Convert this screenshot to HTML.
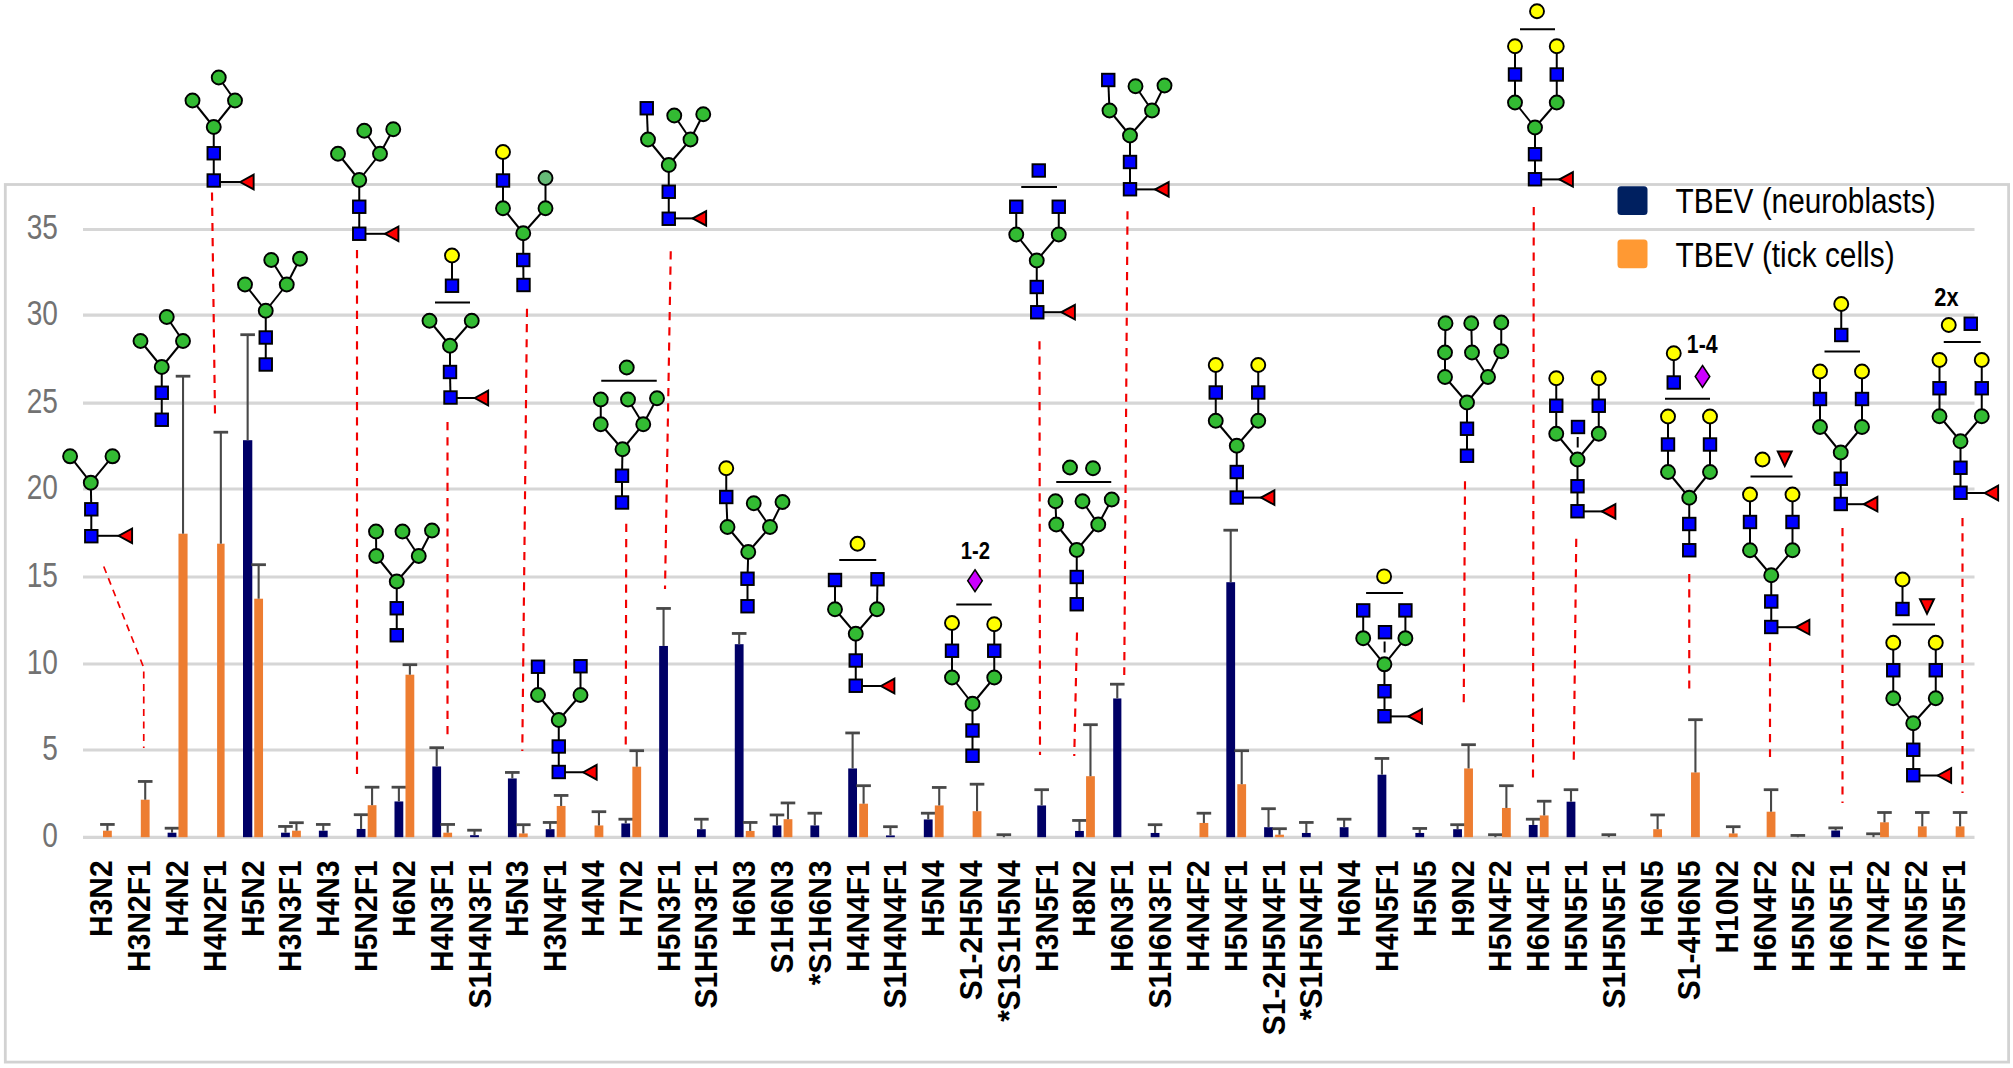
<!DOCTYPE html>
<html><head><meta charset="utf-8"><title>N-glycan profile TBEV</title>
<style>html,body{margin:0;padding:0;background:#fff}svg{display:block}</style>
</head><body>
<svg width="2013" height="1068" viewBox="0 0 2013 1068">
<rect x="0" y="0" width="2013" height="1068" fill="#fff"/>
<rect x="5.3" y="184.5" width="2003.3" height="877.6" fill="none" stroke="#d2d2d2" stroke-width="2.8"/>
<line x1="83.0" y1="229.5" x2="1974.5" y2="229.5" stroke="#d6d6d6" stroke-width="3.2"/>
<line x1="83.0" y1="315.2" x2="1974.5" y2="315.2" stroke="#d6d6d6" stroke-width="3.2"/>
<line x1="83.0" y1="403.1" x2="1974.5" y2="403.1" stroke="#d6d6d6" stroke-width="3.2"/>
<line x1="83.0" y1="489.0" x2="1974.5" y2="489.0" stroke="#d6d6d6" stroke-width="3.2"/>
<line x1="83.0" y1="577.0" x2="1974.5" y2="577.0" stroke="#d6d6d6" stroke-width="3.2"/>
<line x1="83.0" y1="664.0" x2="1974.5" y2="664.0" stroke="#d6d6d6" stroke-width="3.2"/>
<line x1="83.0" y1="750.0" x2="1974.5" y2="750.0" stroke="#d6d6d6" stroke-width="3.2"/>
<line x1="83.0" y1="837.3" x2="1974.5" y2="837.3" stroke="#d6d6d6" stroke-width="3.2"/>
<text x="57.9" y="239.5" text-anchor="end" font-family="Liberation Sans, sans-serif" font-size="36" fill="#727272" transform="translate(57.9 0) scale(0.78 1) translate(-57.9 0)">35</text>
<text x="57.9" y="325.2" text-anchor="end" font-family="Liberation Sans, sans-serif" font-size="36" fill="#727272" transform="translate(57.9 0) scale(0.78 1) translate(-57.9 0)">30</text>
<text x="57.9" y="413.1" text-anchor="end" font-family="Liberation Sans, sans-serif" font-size="36" fill="#727272" transform="translate(57.9 0) scale(0.78 1) translate(-57.9 0)">25</text>
<text x="57.9" y="499.0" text-anchor="end" font-family="Liberation Sans, sans-serif" font-size="36" fill="#727272" transform="translate(57.9 0) scale(0.78 1) translate(-57.9 0)">20</text>
<text x="57.9" y="587.0" text-anchor="end" font-family="Liberation Sans, sans-serif" font-size="36" fill="#727272" transform="translate(57.9 0) scale(0.78 1) translate(-57.9 0)">15</text>
<text x="57.9" y="674.0" text-anchor="end" font-family="Liberation Sans, sans-serif" font-size="36" fill="#727272" transform="translate(57.9 0) scale(0.78 1) translate(-57.9 0)">10</text>
<text x="57.9" y="760.0" text-anchor="end" font-family="Liberation Sans, sans-serif" font-size="36" fill="#727272" transform="translate(57.9 0) scale(0.78 1) translate(-57.9 0)">5</text>
<text x="57.9" y="847.3" text-anchor="end" font-family="Liberation Sans, sans-serif" font-size="36" fill="#727272" transform="translate(57.9 0) scale(0.78 1) translate(-57.9 0)">0</text>
<rect x="103.00" y="830.70" width="8.8" height="6.50" fill="#ED7D31"/>
<line x1="107.41" y1="830.70" x2="107.41" y2="824.45" stroke="#484848" stroke-width="2.1"/>
<line x1="100.11" y1="824.45" x2="114.70" y2="824.45" stroke="#484848" stroke-width="2.8"/>
<rect x="140.81" y="799.70" width="8.8" height="37.50" fill="#ED7D31"/>
<line x1="145.22" y1="799.70" x2="145.22" y2="781.45" stroke="#484848" stroke-width="2.1"/>
<line x1="137.91" y1="781.45" x2="152.52" y2="781.45" stroke="#484848" stroke-width="2.8"/>
<rect x="167.62" y="832.70" width="8.8" height="4.50" fill="#000066"/>
<line x1="172.03" y1="832.70" x2="172.03" y2="828.20" stroke="#484848" stroke-width="2.1"/>
<line x1="164.72" y1="828.20" x2="179.33" y2="828.20" stroke="#484848" stroke-width="2.8"/>
<rect x="178.47" y="533.70" width="9.1" height="303.50" fill="#ED7D31"/>
<line x1="183.03" y1="533.70" x2="183.03" y2="376.20" stroke="#484848" stroke-width="2.1"/>
<line x1="175.72" y1="376.20" x2="190.33" y2="376.20" stroke="#484848" stroke-width="2.8"/>
<rect x="217.09" y="543.70" width="7.5" height="293.50" fill="#ED7D31"/>
<line x1="220.84" y1="543.70" x2="220.84" y2="432.20" stroke="#484848" stroke-width="2.1"/>
<line x1="213.53" y1="432.20" x2="228.14" y2="432.20" stroke="#484848" stroke-width="2.8"/>
<rect x="243.00" y="440.20" width="9.3" height="397.00" fill="#000066"/>
<line x1="247.65" y1="440.20" x2="247.65" y2="334.70" stroke="#484848" stroke-width="2.1"/>
<line x1="240.34" y1="334.70" x2="254.95" y2="334.70" stroke="#484848" stroke-width="2.8"/>
<rect x="254.24" y="598.70" width="8.8" height="238.50" fill="#ED7D31"/>
<line x1="258.64" y1="598.70" x2="258.64" y2="564.70" stroke="#484848" stroke-width="2.1"/>
<line x1="251.34" y1="564.70" x2="265.94" y2="564.70" stroke="#484848" stroke-width="2.8"/>
<rect x="281.06" y="832.70" width="8.8" height="4.50" fill="#000066"/>
<line x1="285.46" y1="832.70" x2="285.46" y2="826.45" stroke="#484848" stroke-width="2.1"/>
<line x1="278.16" y1="826.45" x2="292.76" y2="826.45" stroke="#484848" stroke-width="2.8"/>
<rect x="292.06" y="830.70" width="8.8" height="6.50" fill="#ED7D31"/>
<line x1="296.46" y1="830.70" x2="296.46" y2="822.70" stroke="#484848" stroke-width="2.1"/>
<line x1="289.16" y1="822.70" x2="303.76" y2="822.70" stroke="#484848" stroke-width="2.8"/>
<rect x="318.87" y="830.70" width="8.8" height="6.50" fill="#000066"/>
<line x1="323.26" y1="830.70" x2="323.26" y2="824.45" stroke="#484848" stroke-width="2.1"/>
<line x1="315.96" y1="824.45" x2="330.56" y2="824.45" stroke="#484848" stroke-width="2.8"/>
<rect x="356.68" y="828.95" width="8.8" height="8.25" fill="#000066"/>
<line x1="361.08" y1="828.95" x2="361.08" y2="814.70" stroke="#484848" stroke-width="2.1"/>
<line x1="353.78" y1="814.70" x2="368.38" y2="814.70" stroke="#484848" stroke-width="2.8"/>
<rect x="367.68" y="805.20" width="8.8" height="32.00" fill="#ED7D31"/>
<line x1="372.08" y1="805.20" x2="372.08" y2="787.20" stroke="#484848" stroke-width="2.1"/>
<line x1="364.78" y1="787.20" x2="379.38" y2="787.20" stroke="#484848" stroke-width="2.8"/>
<rect x="394.49" y="801.45" width="8.8" height="35.75" fill="#000066"/>
<line x1="398.88" y1="801.45" x2="398.88" y2="787.20" stroke="#484848" stroke-width="2.1"/>
<line x1="391.58" y1="787.20" x2="406.19" y2="787.20" stroke="#484848" stroke-width="2.8"/>
<rect x="405.49" y="674.70" width="8.8" height="162.50" fill="#ED7D31"/>
<line x1="409.88" y1="674.70" x2="409.88" y2="664.70" stroke="#484848" stroke-width="2.1"/>
<line x1="402.58" y1="664.70" x2="417.19" y2="664.70" stroke="#484848" stroke-width="2.8"/>
<rect x="432.30" y="766.45" width="8.8" height="70.75" fill="#000066"/>
<line x1="436.70" y1="766.45" x2="436.70" y2="747.70" stroke="#484848" stroke-width="2.1"/>
<line x1="429.40" y1="747.70" x2="444.00" y2="747.70" stroke="#484848" stroke-width="2.8"/>
<rect x="443.30" y="832.70" width="8.8" height="4.50" fill="#ED7D31"/>
<line x1="447.70" y1="832.70" x2="447.70" y2="824.45" stroke="#484848" stroke-width="2.1"/>
<line x1="440.40" y1="824.45" x2="455.00" y2="824.45" stroke="#484848" stroke-width="2.8"/>
<rect x="470.11" y="835.20" width="8.8" height="2.00" fill="#000066"/>
<line x1="474.50" y1="835.20" x2="474.50" y2="830.20" stroke="#484848" stroke-width="2.1"/>
<line x1="467.20" y1="830.20" x2="481.81" y2="830.20" stroke="#484848" stroke-width="2.8"/>
<rect x="507.92" y="778.45" width="8.8" height="58.75" fill="#000066"/>
<line x1="512.32" y1="778.45" x2="512.32" y2="772.45" stroke="#484848" stroke-width="2.1"/>
<line x1="505.02" y1="772.45" x2="519.62" y2="772.45" stroke="#484848" stroke-width="2.8"/>
<rect x="518.92" y="833.45" width="8.8" height="3.75" fill="#ED7D31"/>
<line x1="523.32" y1="833.45" x2="523.32" y2="824.70" stroke="#484848" stroke-width="2.1"/>
<line x1="516.02" y1="824.70" x2="530.62" y2="824.70" stroke="#484848" stroke-width="2.8"/>
<rect x="545.73" y="829.20" width="8.8" height="8.00" fill="#000066"/>
<line x1="550.12" y1="829.20" x2="550.12" y2="822.45" stroke="#484848" stroke-width="2.1"/>
<line x1="542.83" y1="822.45" x2="557.42" y2="822.45" stroke="#484848" stroke-width="2.8"/>
<rect x="556.73" y="805.95" width="8.8" height="31.25" fill="#ED7D31"/>
<line x1="561.12" y1="805.95" x2="561.12" y2="795.45" stroke="#484848" stroke-width="2.1"/>
<line x1="553.83" y1="795.45" x2="568.42" y2="795.45" stroke="#484848" stroke-width="2.8"/>
<rect x="594.54" y="825.45" width="8.8" height="11.75" fill="#ED7D31"/>
<line x1="598.94" y1="825.45" x2="598.94" y2="811.70" stroke="#484848" stroke-width="2.1"/>
<line x1="591.64" y1="811.70" x2="606.24" y2="811.70" stroke="#484848" stroke-width="2.8"/>
<rect x="621.35" y="823.45" width="8.8" height="13.75" fill="#000066"/>
<line x1="625.75" y1="823.45" x2="625.75" y2="819.20" stroke="#484848" stroke-width="2.1"/>
<line x1="618.45" y1="819.20" x2="633.04" y2="819.20" stroke="#484848" stroke-width="2.8"/>
<rect x="632.35" y="766.70" width="8.8" height="70.50" fill="#ED7D31"/>
<line x1="636.75" y1="766.70" x2="636.75" y2="750.70" stroke="#484848" stroke-width="2.1"/>
<line x1="629.45" y1="750.70" x2="644.04" y2="750.70" stroke="#484848" stroke-width="2.8"/>
<rect x="659.16" y="645.95" width="8.8" height="191.25" fill="#000066"/>
<line x1="663.56" y1="645.95" x2="663.56" y2="608.45" stroke="#484848" stroke-width="2.1"/>
<line x1="656.26" y1="608.45" x2="670.86" y2="608.45" stroke="#484848" stroke-width="2.8"/>
<rect x="696.97" y="829.20" width="8.8" height="8.00" fill="#000066"/>
<line x1="701.37" y1="829.20" x2="701.37" y2="819.20" stroke="#484848" stroke-width="2.1"/>
<line x1="694.07" y1="819.20" x2="708.66" y2="819.20" stroke="#484848" stroke-width="2.8"/>
<rect x="734.78" y="644.20" width="8.8" height="193.00" fill="#000066"/>
<line x1="739.18" y1="644.20" x2="739.18" y2="633.45" stroke="#484848" stroke-width="2.1"/>
<line x1="731.88" y1="633.45" x2="746.48" y2="633.45" stroke="#484848" stroke-width="2.8"/>
<rect x="745.78" y="830.95" width="8.8" height="6.25" fill="#ED7D31"/>
<line x1="750.18" y1="830.95" x2="750.18" y2="822.45" stroke="#484848" stroke-width="2.1"/>
<line x1="742.88" y1="822.45" x2="757.48" y2="822.45" stroke="#484848" stroke-width="2.8"/>
<rect x="772.59" y="825.45" width="8.8" height="11.75" fill="#000066"/>
<line x1="776.99" y1="825.45" x2="776.99" y2="814.95" stroke="#484848" stroke-width="2.1"/>
<line x1="769.69" y1="814.95" x2="784.28" y2="814.95" stroke="#484848" stroke-width="2.8"/>
<rect x="783.59" y="819.20" width="8.8" height="18.00" fill="#ED7D31"/>
<line x1="787.99" y1="819.20" x2="787.99" y2="802.95" stroke="#484848" stroke-width="2.1"/>
<line x1="780.69" y1="802.95" x2="795.28" y2="802.95" stroke="#484848" stroke-width="2.8"/>
<rect x="810.40" y="825.45" width="8.8" height="11.75" fill="#000066"/>
<line x1="814.80" y1="825.45" x2="814.80" y2="813.20" stroke="#484848" stroke-width="2.1"/>
<line x1="807.50" y1="813.20" x2="822.10" y2="813.20" stroke="#484848" stroke-width="2.8"/>
<rect x="848.21" y="768.45" width="8.8" height="68.75" fill="#000066"/>
<line x1="852.61" y1="768.45" x2="852.61" y2="732.95" stroke="#484848" stroke-width="2.1"/>
<line x1="845.31" y1="732.95" x2="859.90" y2="732.95" stroke="#484848" stroke-width="2.8"/>
<rect x="859.21" y="803.70" width="8.8" height="33.50" fill="#ED7D31"/>
<line x1="863.61" y1="803.70" x2="863.61" y2="785.70" stroke="#484848" stroke-width="2.1"/>
<line x1="856.31" y1="785.70" x2="870.90" y2="785.70" stroke="#484848" stroke-width="2.8"/>
<rect x="886.02" y="835.45" width="8.8" height="1.75" fill="#000066"/>
<line x1="890.42" y1="835.45" x2="890.42" y2="826.70" stroke="#484848" stroke-width="2.1"/>
<line x1="883.12" y1="826.70" x2="897.72" y2="826.70" stroke="#484848" stroke-width="2.8"/>
<rect x="923.83" y="819.45" width="8.8" height="17.75" fill="#000066"/>
<line x1="928.23" y1="819.45" x2="928.23" y2="813.20" stroke="#484848" stroke-width="2.1"/>
<line x1="920.93" y1="813.20" x2="935.52" y2="813.20" stroke="#484848" stroke-width="2.8"/>
<rect x="934.83" y="805.45" width="8.8" height="31.75" fill="#ED7D31"/>
<line x1="939.23" y1="805.45" x2="939.23" y2="787.45" stroke="#484848" stroke-width="2.1"/>
<line x1="931.93" y1="787.45" x2="946.52" y2="787.45" stroke="#484848" stroke-width="2.8"/>
<rect x="972.64" y="811.20" width="8.8" height="26.00" fill="#ED7D31"/>
<line x1="977.04" y1="811.20" x2="977.04" y2="784.20" stroke="#484848" stroke-width="2.1"/>
<line x1="969.74" y1="784.20" x2="984.34" y2="784.20" stroke="#484848" stroke-width="2.8"/>
<line x1="1003.85" y1="837.20" x2="1003.85" y2="834.70" stroke="#484848" stroke-width="2.1"/>
<line x1="996.55" y1="834.70" x2="1011.14" y2="834.70" stroke="#484848" stroke-width="2.8"/>
<rect x="1037.26" y="805.45" width="8.8" height="31.75" fill="#000066"/>
<line x1="1041.66" y1="805.45" x2="1041.66" y2="789.70" stroke="#484848" stroke-width="2.1"/>
<line x1="1034.36" y1="789.70" x2="1048.96" y2="789.70" stroke="#484848" stroke-width="2.8"/>
<rect x="1075.07" y="830.95" width="8.8" height="6.25" fill="#000066"/>
<line x1="1079.47" y1="830.95" x2="1079.47" y2="820.45" stroke="#484848" stroke-width="2.1"/>
<line x1="1072.17" y1="820.45" x2="1086.77" y2="820.45" stroke="#484848" stroke-width="2.8"/>
<rect x="1086.07" y="776.20" width="8.8" height="61.00" fill="#ED7D31"/>
<line x1="1090.47" y1="776.20" x2="1090.47" y2="724.70" stroke="#484848" stroke-width="2.1"/>
<line x1="1083.17" y1="724.70" x2="1097.77" y2="724.70" stroke="#484848" stroke-width="2.8"/>
<rect x="1113.18" y="698.45" width="8.2" height="138.75" fill="#000066"/>
<line x1="1117.28" y1="698.45" x2="1117.28" y2="684.20" stroke="#484848" stroke-width="2.1"/>
<line x1="1109.98" y1="684.20" x2="1124.58" y2="684.20" stroke="#484848" stroke-width="2.8"/>
<rect x="1150.68" y="832.95" width="8.8" height="4.25" fill="#000066"/>
<line x1="1155.09" y1="832.95" x2="1155.09" y2="824.70" stroke="#484848" stroke-width="2.1"/>
<line x1="1147.79" y1="824.70" x2="1162.38" y2="824.70" stroke="#484848" stroke-width="2.8"/>
<rect x="1199.49" y="822.95" width="8.8" height="14.25" fill="#ED7D31"/>
<line x1="1203.89" y1="822.95" x2="1203.89" y2="813.20" stroke="#484848" stroke-width="2.1"/>
<line x1="1196.60" y1="813.20" x2="1211.19" y2="813.20" stroke="#484848" stroke-width="2.8"/>
<rect x="1226.31" y="582.20" width="8.8" height="255.00" fill="#000066"/>
<line x1="1230.71" y1="582.20" x2="1230.71" y2="530.20" stroke="#484848" stroke-width="2.1"/>
<line x1="1223.41" y1="530.20" x2="1238.01" y2="530.20" stroke="#484848" stroke-width="2.8"/>
<rect x="1237.31" y="784.20" width="8.8" height="53.00" fill="#ED7D31"/>
<line x1="1241.71" y1="784.20" x2="1241.71" y2="750.70" stroke="#484848" stroke-width="2.1"/>
<line x1="1234.41" y1="750.70" x2="1249.01" y2="750.70" stroke="#484848" stroke-width="2.8"/>
<rect x="1264.12" y="827.20" width="8.8" height="10.00" fill="#000066"/>
<line x1="1268.52" y1="827.20" x2="1268.52" y2="808.70" stroke="#484848" stroke-width="2.1"/>
<line x1="1261.22" y1="808.70" x2="1275.82" y2="808.70" stroke="#484848" stroke-width="2.8"/>
<rect x="1275.12" y="834.70" width="8.8" height="2.50" fill="#ED7D31"/>
<line x1="1279.52" y1="834.70" x2="1279.52" y2="828.70" stroke="#484848" stroke-width="2.1"/>
<line x1="1272.22" y1="828.70" x2="1286.82" y2="828.70" stroke="#484848" stroke-width="2.8"/>
<rect x="1301.92" y="832.95" width="8.8" height="4.25" fill="#000066"/>
<line x1="1306.33" y1="832.95" x2="1306.33" y2="822.45" stroke="#484848" stroke-width="2.1"/>
<line x1="1299.03" y1="822.45" x2="1313.62" y2="822.45" stroke="#484848" stroke-width="2.8"/>
<rect x="1339.73" y="827.20" width="8.8" height="10.00" fill="#000066"/>
<line x1="1344.13" y1="827.20" x2="1344.13" y2="819.20" stroke="#484848" stroke-width="2.1"/>
<line x1="1336.84" y1="819.20" x2="1351.43" y2="819.20" stroke="#484848" stroke-width="2.8"/>
<rect x="1377.55" y="774.70" width="8.8" height="62.50" fill="#000066"/>
<line x1="1381.95" y1="774.70" x2="1381.95" y2="758.45" stroke="#484848" stroke-width="2.1"/>
<line x1="1374.65" y1="758.45" x2="1389.25" y2="758.45" stroke="#484848" stroke-width="2.8"/>
<rect x="1415.36" y="832.95" width="8.8" height="4.25" fill="#000066"/>
<line x1="1419.76" y1="832.95" x2="1419.76" y2="828.45" stroke="#484848" stroke-width="2.1"/>
<line x1="1412.46" y1="828.45" x2="1427.06" y2="828.45" stroke="#484848" stroke-width="2.8"/>
<rect x="1453.16" y="829.20" width="8.8" height="8.00" fill="#000066"/>
<line x1="1457.57" y1="829.20" x2="1457.57" y2="824.70" stroke="#484848" stroke-width="2.1"/>
<line x1="1450.27" y1="824.70" x2="1464.87" y2="824.70" stroke="#484848" stroke-width="2.8"/>
<rect x="1464.16" y="768.45" width="8.8" height="68.75" fill="#ED7D31"/>
<line x1="1468.57" y1="768.45" x2="1468.57" y2="744.70" stroke="#484848" stroke-width="2.1"/>
<line x1="1461.27" y1="744.70" x2="1475.87" y2="744.70" stroke="#484848" stroke-width="2.8"/>
<line x1="1495.38" y1="837.20" x2="1495.38" y2="834.70" stroke="#484848" stroke-width="2.1"/>
<line x1="1488.08" y1="834.70" x2="1502.67" y2="834.70" stroke="#484848" stroke-width="2.8"/>
<rect x="1501.97" y="807.95" width="8.8" height="29.25" fill="#ED7D31"/>
<line x1="1506.38" y1="807.95" x2="1506.38" y2="785.70" stroke="#484848" stroke-width="2.1"/>
<line x1="1499.08" y1="785.70" x2="1513.67" y2="785.70" stroke="#484848" stroke-width="2.8"/>
<rect x="1528.79" y="824.95" width="8.8" height="12.25" fill="#000066"/>
<line x1="1533.19" y1="824.95" x2="1533.19" y2="819.20" stroke="#484848" stroke-width="2.1"/>
<line x1="1525.89" y1="819.20" x2="1540.49" y2="819.20" stroke="#484848" stroke-width="2.8"/>
<rect x="1539.79" y="815.45" width="8.8" height="21.75" fill="#ED7D31"/>
<line x1="1544.19" y1="815.45" x2="1544.19" y2="801.20" stroke="#484848" stroke-width="2.1"/>
<line x1="1536.89" y1="801.20" x2="1551.49" y2="801.20" stroke="#484848" stroke-width="2.8"/>
<rect x="1566.60" y="801.70" width="8.8" height="35.50" fill="#000066"/>
<line x1="1571.00" y1="801.70" x2="1571.00" y2="789.70" stroke="#484848" stroke-width="2.1"/>
<line x1="1563.70" y1="789.70" x2="1578.30" y2="789.70" stroke="#484848" stroke-width="2.8"/>
<line x1="1608.81" y1="837.20" x2="1608.81" y2="834.70" stroke="#484848" stroke-width="2.1"/>
<line x1="1601.51" y1="834.70" x2="1616.11" y2="834.70" stroke="#484848" stroke-width="2.8"/>
<rect x="1653.21" y="829.20" width="8.8" height="8.00" fill="#ED7D31"/>
<line x1="1657.62" y1="829.20" x2="1657.62" y2="814.95" stroke="#484848" stroke-width="2.1"/>
<line x1="1650.32" y1="814.95" x2="1664.91" y2="814.95" stroke="#484848" stroke-width="2.8"/>
<rect x="1691.03" y="772.45" width="8.8" height="64.75" fill="#ED7D31"/>
<line x1="1695.43" y1="772.45" x2="1695.43" y2="719.70" stroke="#484848" stroke-width="2.1"/>
<line x1="1688.13" y1="719.70" x2="1702.73" y2="719.70" stroke="#484848" stroke-width="2.8"/>
<rect x="1728.84" y="833.45" width="8.8" height="3.75" fill="#ED7D31"/>
<line x1="1733.24" y1="833.45" x2="1733.24" y2="826.70" stroke="#484848" stroke-width="2.1"/>
<line x1="1725.94" y1="826.70" x2="1740.54" y2="826.70" stroke="#484848" stroke-width="2.8"/>
<rect x="1766.64" y="811.70" width="8.8" height="25.50" fill="#ED7D31"/>
<line x1="1771.05" y1="811.70" x2="1771.05" y2="789.70" stroke="#484848" stroke-width="2.1"/>
<line x1="1763.75" y1="789.70" x2="1778.35" y2="789.70" stroke="#484848" stroke-width="2.8"/>
<line x1="1797.86" y1="837.20" x2="1797.86" y2="835.45" stroke="#484848" stroke-width="2.1"/>
<line x1="1790.56" y1="835.45" x2="1805.15" y2="835.45" stroke="#484848" stroke-width="2.8"/>
<rect x="1831.27" y="830.50" width="8.8" height="6.70" fill="#000066"/>
<line x1="1835.67" y1="830.50" x2="1835.67" y2="827.90" stroke="#484848" stroke-width="2.1"/>
<line x1="1828.37" y1="827.90" x2="1842.97" y2="827.90" stroke="#484848" stroke-width="2.8"/>
<line x1="1873.48" y1="837.20" x2="1873.48" y2="833.80" stroke="#484848" stroke-width="2.1"/>
<line x1="1866.18" y1="833.80" x2="1880.78" y2="833.80" stroke="#484848" stroke-width="2.8"/>
<rect x="1880.08" y="822.30" width="8.8" height="14.90" fill="#ED7D31"/>
<line x1="1884.48" y1="822.30" x2="1884.48" y2="812.50" stroke="#484848" stroke-width="2.1"/>
<line x1="1877.18" y1="812.50" x2="1891.78" y2="812.50" stroke="#484848" stroke-width="2.8"/>
<rect x="1917.88" y="826.40" width="8.8" height="10.80" fill="#ED7D31"/>
<line x1="1922.29" y1="826.40" x2="1922.29" y2="812.50" stroke="#484848" stroke-width="2.1"/>
<line x1="1914.99" y1="812.50" x2="1929.59" y2="812.50" stroke="#484848" stroke-width="2.8"/>
<rect x="1955.69" y="826.40" width="8.8" height="10.80" fill="#ED7D31"/>
<line x1="1960.10" y1="826.40" x2="1960.10" y2="812.50" stroke="#484848" stroke-width="2.1"/>
<line x1="1952.80" y1="812.50" x2="1967.39" y2="812.50" stroke="#484848" stroke-width="2.8"/>
<text font-family="Liberation Sans, sans-serif" font-weight="bold" font-size="32.1" fill="#000" text-anchor="end" transform="translate(112.41 860.4) rotate(-90) scale(0.933 1)">H3N2</text>
<text font-family="Liberation Sans, sans-serif" font-weight="bold" font-size="32.1" fill="#000" text-anchor="end" transform="translate(150.22 860.4) rotate(-90) scale(0.933 1)">H3N2F1</text>
<text font-family="Liberation Sans, sans-serif" font-weight="bold" font-size="32.1" fill="#000" text-anchor="end" transform="translate(188.03 860.4) rotate(-90) scale(0.933 1)">H4N2</text>
<text font-family="Liberation Sans, sans-serif" font-weight="bold" font-size="32.1" fill="#000" text-anchor="end" transform="translate(225.84 860.4) rotate(-90) scale(0.933 1)">H4N2F1</text>
<text font-family="Liberation Sans, sans-serif" font-weight="bold" font-size="32.1" fill="#000" text-anchor="end" transform="translate(263.64 860.4) rotate(-90) scale(0.933 1)">H5N2</text>
<text font-family="Liberation Sans, sans-serif" font-weight="bold" font-size="32.1" fill="#000" text-anchor="end" transform="translate(301.46 860.4) rotate(-90) scale(0.933 1)">H3N3F1</text>
<text font-family="Liberation Sans, sans-serif" font-weight="bold" font-size="32.1" fill="#000" text-anchor="end" transform="translate(339.26 860.4) rotate(-90) scale(0.933 1)">H4N3</text>
<text font-family="Liberation Sans, sans-serif" font-weight="bold" font-size="32.1" fill="#000" text-anchor="end" transform="translate(377.08 860.4) rotate(-90) scale(0.933 1)">H5N2F1</text>
<text font-family="Liberation Sans, sans-serif" font-weight="bold" font-size="32.1" fill="#000" text-anchor="end" transform="translate(414.88 860.4) rotate(-90) scale(0.933 1)">H6N2</text>
<text font-family="Liberation Sans, sans-serif" font-weight="bold" font-size="32.1" fill="#000" text-anchor="end" transform="translate(452.70 860.4) rotate(-90) scale(0.933 1)">H4N3F1</text>
<text font-family="Liberation Sans, sans-serif" font-weight="bold" font-size="32.1" fill="#000" text-anchor="end" transform="translate(490.50 860.4) rotate(-90) scale(0.933 1)">S1H4N3F1</text>
<text font-family="Liberation Sans, sans-serif" font-weight="bold" font-size="32.1" fill="#000" text-anchor="end" transform="translate(528.32 860.4) rotate(-90) scale(0.933 1)">H5N3</text>
<text font-family="Liberation Sans, sans-serif" font-weight="bold" font-size="32.1" fill="#000" text-anchor="end" transform="translate(566.12 860.4) rotate(-90) scale(0.933 1)">H3N4F1</text>
<text font-family="Liberation Sans, sans-serif" font-weight="bold" font-size="32.1" fill="#000" text-anchor="end" transform="translate(603.94 860.4) rotate(-90) scale(0.933 1)">H4N4</text>
<text font-family="Liberation Sans, sans-serif" font-weight="bold" font-size="32.1" fill="#000" text-anchor="end" transform="translate(641.75 860.4) rotate(-90) scale(0.933 1)">H7N2</text>
<text font-family="Liberation Sans, sans-serif" font-weight="bold" font-size="32.1" fill="#000" text-anchor="end" transform="translate(679.56 860.4) rotate(-90) scale(0.933 1)">H5N3F1</text>
<text font-family="Liberation Sans, sans-serif" font-weight="bold" font-size="32.1" fill="#000" text-anchor="end" transform="translate(717.37 860.4) rotate(-90) scale(0.933 1)">S1H5N3F1</text>
<text font-family="Liberation Sans, sans-serif" font-weight="bold" font-size="32.1" fill="#000" text-anchor="end" transform="translate(755.18 860.4) rotate(-90) scale(0.933 1)">H6N3</text>
<text font-family="Liberation Sans, sans-serif" font-weight="bold" font-size="32.1" fill="#000" text-anchor="end" transform="translate(792.99 860.4) rotate(-90) scale(0.933 1)">S1H6N3</text>
<text font-family="Liberation Sans, sans-serif" font-weight="bold" font-size="32.1" fill="#000" text-anchor="end" transform="translate(830.80 860.4) rotate(-90) scale(0.933 1)">*S1H6N3</text>
<text font-family="Liberation Sans, sans-serif" font-weight="bold" font-size="32.1" fill="#000" text-anchor="end" transform="translate(868.61 860.4) rotate(-90) scale(0.933 1)">H4N4F1</text>
<text font-family="Liberation Sans, sans-serif" font-weight="bold" font-size="32.1" fill="#000" text-anchor="end" transform="translate(906.42 860.4) rotate(-90) scale(0.933 1)">S1H4N4F1</text>
<text font-family="Liberation Sans, sans-serif" font-weight="bold" font-size="32.1" fill="#000" text-anchor="end" transform="translate(944.23 860.4) rotate(-90) scale(0.933 1)">H5N4</text>
<text font-family="Liberation Sans, sans-serif" font-weight="bold" font-size="32.1" fill="#000" text-anchor="end" transform="translate(982.04 860.4) rotate(-90) scale(0.933 1)">S1-2H5N4</text>
<text font-family="Liberation Sans, sans-serif" font-weight="bold" font-size="32.1" fill="#000" text-anchor="end" transform="translate(1019.85 860.4) rotate(-90) scale(0.933 1)">*S1S1H5N4</text>
<text font-family="Liberation Sans, sans-serif" font-weight="bold" font-size="32.1" fill="#000" text-anchor="end" transform="translate(1057.66 860.4) rotate(-90) scale(0.933 1)">H3N5F1</text>
<text font-family="Liberation Sans, sans-serif" font-weight="bold" font-size="32.1" fill="#000" text-anchor="end" transform="translate(1095.47 860.4) rotate(-90) scale(0.933 1)">H8N2</text>
<text font-family="Liberation Sans, sans-serif" font-weight="bold" font-size="32.1" fill="#000" text-anchor="end" transform="translate(1133.28 860.4) rotate(-90) scale(0.933 1)">H6N3F1</text>
<text font-family="Liberation Sans, sans-serif" font-weight="bold" font-size="32.1" fill="#000" text-anchor="end" transform="translate(1171.09 860.4) rotate(-90) scale(0.933 1)">S1H6N3F1</text>
<text font-family="Liberation Sans, sans-serif" font-weight="bold" font-size="32.1" fill="#000" text-anchor="end" transform="translate(1208.89 860.4) rotate(-90) scale(0.933 1)">H4N4F2</text>
<text font-family="Liberation Sans, sans-serif" font-weight="bold" font-size="32.1" fill="#000" text-anchor="end" transform="translate(1246.71 860.4) rotate(-90) scale(0.933 1)">H5N4F1</text>
<text font-family="Liberation Sans, sans-serif" font-weight="bold" font-size="32.1" fill="#000" text-anchor="end" transform="translate(1284.52 860.4) rotate(-90) scale(0.933 1)">S1-2H5N4F1</text>
<text font-family="Liberation Sans, sans-serif" font-weight="bold" font-size="32.1" fill="#000" text-anchor="end" transform="translate(1322.33 860.4) rotate(-90) scale(0.933 1)">*S1H5N4F1</text>
<text font-family="Liberation Sans, sans-serif" font-weight="bold" font-size="32.1" fill="#000" text-anchor="end" transform="translate(1360.13 860.4) rotate(-90) scale(0.933 1)">H6N4</text>
<text font-family="Liberation Sans, sans-serif" font-weight="bold" font-size="32.1" fill="#000" text-anchor="end" transform="translate(1397.95 860.4) rotate(-90) scale(0.933 1)">H4N5F1</text>
<text font-family="Liberation Sans, sans-serif" font-weight="bold" font-size="32.1" fill="#000" text-anchor="end" transform="translate(1435.76 860.4) rotate(-90) scale(0.933 1)">H5N5</text>
<text font-family="Liberation Sans, sans-serif" font-weight="bold" font-size="32.1" fill="#000" text-anchor="end" transform="translate(1473.57 860.4) rotate(-90) scale(0.933 1)">H9N2</text>
<text font-family="Liberation Sans, sans-serif" font-weight="bold" font-size="32.1" fill="#000" text-anchor="end" transform="translate(1511.38 860.4) rotate(-90) scale(0.933 1)">H5N4F2</text>
<text font-family="Liberation Sans, sans-serif" font-weight="bold" font-size="32.1" fill="#000" text-anchor="end" transform="translate(1549.19 860.4) rotate(-90) scale(0.933 1)">H6N4F1</text>
<text font-family="Liberation Sans, sans-serif" font-weight="bold" font-size="32.1" fill="#000" text-anchor="end" transform="translate(1587.00 860.4) rotate(-90) scale(0.933 1)">H5N5F1</text>
<text font-family="Liberation Sans, sans-serif" font-weight="bold" font-size="32.1" fill="#000" text-anchor="end" transform="translate(1624.81 860.4) rotate(-90) scale(0.933 1)">S1H5N5F1</text>
<text font-family="Liberation Sans, sans-serif" font-weight="bold" font-size="32.1" fill="#000" text-anchor="end" transform="translate(1662.62 860.4) rotate(-90) scale(0.933 1)">H6N5</text>
<text font-family="Liberation Sans, sans-serif" font-weight="bold" font-size="32.1" fill="#000" text-anchor="end" transform="translate(1700.43 860.4) rotate(-90) scale(0.933 1)">S1-4H6N5</text>
<text font-family="Liberation Sans, sans-serif" font-weight="bold" font-size="32.1" fill="#000" text-anchor="end" transform="translate(1738.24 860.4) rotate(-90) scale(0.933 1)">H10N2</text>
<text font-family="Liberation Sans, sans-serif" font-weight="bold" font-size="32.1" fill="#000" text-anchor="end" transform="translate(1776.05 860.4) rotate(-90) scale(0.933 1)">H6N4F2</text>
<text font-family="Liberation Sans, sans-serif" font-weight="bold" font-size="32.1" fill="#000" text-anchor="end" transform="translate(1813.86 860.4) rotate(-90) scale(0.933 1)">H5N5F2</text>
<text font-family="Liberation Sans, sans-serif" font-weight="bold" font-size="32.1" fill="#000" text-anchor="end" transform="translate(1851.67 860.4) rotate(-90) scale(0.933 1)">H6N5F1</text>
<text font-family="Liberation Sans, sans-serif" font-weight="bold" font-size="32.1" fill="#000" text-anchor="end" transform="translate(1889.48 860.4) rotate(-90) scale(0.933 1)">H7N4F2</text>
<text font-family="Liberation Sans, sans-serif" font-weight="bold" font-size="32.1" fill="#000" text-anchor="end" transform="translate(1927.29 860.4) rotate(-90) scale(0.933 1)">H6N5F2</text>
<text font-family="Liberation Sans, sans-serif" font-weight="bold" font-size="32.1" fill="#000" text-anchor="end" transform="translate(1965.10 860.4) rotate(-90) scale(0.933 1)">H7N5F1</text>
<rect x="1617.5" y="186.3" width="30" height="28.8" rx="3.5" fill="#002060"/>
<rect x="1617.5" y="239.5" width="30" height="28.8" rx="3.5" fill="#FF9933"/>
<text x="1675.6" y="213.3" font-family="Liberation Sans, sans-serif" font-size="34.2" fill="#000" textLength="260" lengthAdjust="spacingAndGlyphs">TBEV (neuroblasts)</text>
<text x="1675.6" y="266.5" font-family="Liberation Sans, sans-serif" font-size="34.2" fill="#000" textLength="219" lengthAdjust="spacingAndGlyphs">TBEV (tick cells)</text>
<path d="M103.75 566.5 L143.75 667.75 L143.75 748" fill="none" stroke="#f20000" stroke-width="1.7" stroke-dasharray="7 5.5"/>
<path d="M212 192.5 L215 414.5" fill="none" stroke="#f20000" stroke-width="2.15" stroke-dasharray="8.2 7"/>
<path d="M357 250 L357 774" fill="none" stroke="#f20000" stroke-width="2.15" stroke-dasharray="8.2 7"/>
<path d="M447.5 422 L447.5 739" fill="none" stroke="#f20000" stroke-width="2.15" stroke-dasharray="8.2 7"/>
<path d="M527 308.75 L522.3 751" fill="none" stroke="#f20000" stroke-width="2.15" stroke-dasharray="8.2 7"/>
<path d="M626.25 523.75 L625.75 744.5" fill="none" stroke="#f20000" stroke-width="2.15" stroke-dasharray="8.2 7"/>
<path d="M670.75 251.25 L665 589" fill="none" stroke="#f20000" stroke-width="2.15" stroke-dasharray="8.2 7"/>
<path d="M1039.5 341.25 L1040 755" fill="none" stroke="#f20000" stroke-width="2.15" stroke-dasharray="8.2 7"/>
<path d="M1077 632.5 L1074.25 756" fill="none" stroke="#f20000" stroke-width="2.15" stroke-dasharray="8.2 7"/>
<path d="M1127.5 211.25 L1124.25 675" fill="none" stroke="#f20000" stroke-width="2.15" stroke-dasharray="8.2 7"/>
<path d="M1465 481.25 L1463.75 702.5" fill="none" stroke="#f20000" stroke-width="2.15" stroke-dasharray="8.2 7"/>
<path d="M1533.75 207 L1533 778.75" fill="none" stroke="#f20000" stroke-width="2.15" stroke-dasharray="8.2 7"/>
<path d="M1576.25 538.75 L1573.75 761" fill="none" stroke="#f20000" stroke-width="2.15" stroke-dasharray="8.2 7"/>
<path d="M1689.25 574 L1689.25 689" fill="none" stroke="#f20000" stroke-width="2.15" stroke-dasharray="8.2 7"/>
<path d="M1770 642.75 L1770 757" fill="none" stroke="#f20000" stroke-width="2.15" stroke-dasharray="8.2 7"/>
<path d="M1842.5 528 L1842.5 803" fill="none" stroke="#f20000" stroke-width="2.15" stroke-dasharray="8.2 7"/>
<path d="M1962.5 518 L1962.5 793" fill="none" stroke="#f20000" stroke-width="2.15" stroke-dasharray="8.2 7"/>
<g><line x1="70.1" y1="456.3" x2="90.8" y2="482.7" stroke="#000" stroke-width="2"/><line x1="112.5" y1="456.3" x2="90.8" y2="482.7" stroke="#000" stroke-width="2"/><line x1="90.8" y1="482.7" x2="91.3" y2="509.3" stroke="#000" stroke-width="2"/><line x1="91.3" y1="509.3" x2="91.3" y2="536.2" stroke="#000" stroke-width="2"/><line x1="91.3" y1="535.8" x2="120.2" y2="535.8" stroke="#000" stroke-width="2"/><circle cx="70.1" cy="456.3" r="7.0" fill="#33bb33" stroke="#000" stroke-width="1.9"/><circle cx="112.5" cy="456.3" r="7.0" fill="#33bb33" stroke="#000" stroke-width="1.9"/><circle cx="90.8" cy="482.7" r="7.0" fill="#33bb33" stroke="#000" stroke-width="1.9"/><rect x="85.05" y="503.05" width="12.5" height="12.5" fill="#0000ff" stroke="#000" stroke-width="1.9"/><rect x="85.05" y="529.95" width="12.5" height="12.5" fill="#0000ff" stroke="#000" stroke-width="1.9"/><path d="M118.60 535.8 L132.10 528.5 L132.10 543.0999999999999 Z" fill="#ff0000" stroke="#000" stroke-width="1.9" stroke-linejoin="miter"/></g>
<g><line x1="166.75" y1="317" x2="183" y2="341" stroke="#000" stroke-width="2"/><line x1="140.5" y1="341" x2="161.75" y2="367" stroke="#000" stroke-width="2"/><line x1="183" y1="341" x2="161.75" y2="367" stroke="#000" stroke-width="2"/><line x1="161.75" y1="367" x2="161.75" y2="392.75" stroke="#000" stroke-width="2"/><line x1="161.75" y1="392.75" x2="161.75" y2="419.75" stroke="#000" stroke-width="2"/><circle cx="166.75" cy="317" r="7.0" fill="#33bb33" stroke="#000" stroke-width="1.9"/><circle cx="140.5" cy="341" r="7.0" fill="#33bb33" stroke="#000" stroke-width="1.9"/><circle cx="183" cy="341" r="7.0" fill="#33bb33" stroke="#000" stroke-width="1.9"/><circle cx="161.75" cy="367" r="7.0" fill="#33bb33" stroke="#000" stroke-width="1.9"/><rect x="155.50" y="386.50" width="12.5" height="12.5" fill="#0000ff" stroke="#000" stroke-width="1.9"/><rect x="155.50" y="413.50" width="12.5" height="12.5" fill="#0000ff" stroke="#000" stroke-width="1.9"/></g>
<g><line x1="218.75" y1="77.5" x2="235" y2="100.5" stroke="#000" stroke-width="2"/><line x1="192.5" y1="100.5" x2="213.75" y2="127" stroke="#000" stroke-width="2"/><line x1="235" y1="100.5" x2="213.75" y2="127" stroke="#000" stroke-width="2"/><line x1="213.75" y1="127" x2="213.75" y2="153.25" stroke="#000" stroke-width="2"/><line x1="213.75" y1="153.25" x2="213.75" y2="180.5" stroke="#000" stroke-width="2"/><line x1="213.75" y1="182" x2="241.75" y2="182" stroke="#000" stroke-width="2"/><circle cx="218.75" cy="77.5" r="7.0" fill="#33bb33" stroke="#000" stroke-width="1.9"/><circle cx="192.5" cy="100.5" r="7.0" fill="#33bb33" stroke="#000" stroke-width="1.9"/><circle cx="235" cy="100.5" r="7.0" fill="#33bb33" stroke="#000" stroke-width="1.9"/><circle cx="213.75" cy="127" r="7.0" fill="#33bb33" stroke="#000" stroke-width="1.9"/><rect x="207.50" y="147.00" width="12.5" height="12.5" fill="#0000ff" stroke="#000" stroke-width="1.9"/><rect x="207.50" y="174.25" width="12.5" height="12.5" fill="#0000ff" stroke="#000" stroke-width="1.9"/><path d="M240.15 182 L253.65 174.7 L253.65 189.3 Z" fill="#ff0000" stroke="#000" stroke-width="1.9" stroke-linejoin="miter"/></g>
<g><line x1="271.25" y1="260" x2="286.75" y2="284.5" stroke="#000" stroke-width="2"/><line x1="300" y1="258.75" x2="286.75" y2="284.5" stroke="#000" stroke-width="2"/><line x1="245" y1="284.5" x2="265.75" y2="310.75" stroke="#000" stroke-width="2"/><line x1="286.75" y1="284.5" x2="265.75" y2="310.75" stroke="#000" stroke-width="2"/><line x1="265.75" y1="310.75" x2="265.75" y2="337.5" stroke="#000" stroke-width="2"/><line x1="265.75" y1="337.5" x2="265.75" y2="364.5" stroke="#000" stroke-width="2"/><circle cx="271.25" cy="260" r="7.0" fill="#33bb33" stroke="#000" stroke-width="1.9"/><circle cx="300" cy="258.75" r="7.0" fill="#33bb33" stroke="#000" stroke-width="1.9"/><circle cx="245" cy="284.5" r="7.0" fill="#33bb33" stroke="#000" stroke-width="1.9"/><circle cx="286.75" cy="284.5" r="7.0" fill="#33bb33" stroke="#000" stroke-width="1.9"/><circle cx="265.75" cy="310.75" r="7.0" fill="#33bb33" stroke="#000" stroke-width="1.9"/><rect x="259.50" y="331.25" width="12.5" height="12.5" fill="#0000ff" stroke="#000" stroke-width="1.9"/><rect x="259.50" y="358.25" width="12.5" height="12.5" fill="#0000ff" stroke="#000" stroke-width="1.9"/></g>
<g><line x1="364.25" y1="130.75" x2="380" y2="153.75" stroke="#000" stroke-width="2"/><line x1="393.25" y1="129.25" x2="380" y2="153.75" stroke="#000" stroke-width="2"/><line x1="338" y1="153.75" x2="359.25" y2="180" stroke="#000" stroke-width="2"/><line x1="380" y1="153.75" x2="359.25" y2="180" stroke="#000" stroke-width="2"/><line x1="359.25" y1="180" x2="359.25" y2="206.75" stroke="#000" stroke-width="2"/><line x1="359.25" y1="206.75" x2="359.25" y2="233.75" stroke="#000" stroke-width="2"/><line x1="359.25" y1="233.8" x2="386.5" y2="233.8" stroke="#000" stroke-width="2"/><circle cx="364.25" cy="130.75" r="7.0" fill="#33bb33" stroke="#000" stroke-width="1.9"/><circle cx="393.25" cy="129.25" r="7.0" fill="#33bb33" stroke="#000" stroke-width="1.9"/><circle cx="338" cy="153.75" r="7.0" fill="#33bb33" stroke="#000" stroke-width="1.9"/><circle cx="380" cy="153.75" r="7.0" fill="#33bb33" stroke="#000" stroke-width="1.9"/><circle cx="359.25" cy="180" r="7.0" fill="#33bb33" stroke="#000" stroke-width="1.9"/><rect x="353.00" y="200.50" width="12.5" height="12.5" fill="#0000ff" stroke="#000" stroke-width="1.9"/><rect x="353.00" y="227.50" width="12.5" height="12.5" fill="#0000ff" stroke="#000" stroke-width="1.9"/><path d="M384.90 233.8 L398.40 226.5 L398.40 241.10000000000002 Z" fill="#ff0000" stroke="#000" stroke-width="1.9" stroke-linejoin="miter"/></g>
<g><line x1="376" y1="531.5" x2="376.25" y2="556" stroke="#000" stroke-width="2"/><line x1="402.5" y1="531.5" x2="418.75" y2="556" stroke="#000" stroke-width="2"/><line x1="432" y1="530.5" x2="418.75" y2="556" stroke="#000" stroke-width="2"/><line x1="376.25" y1="556" x2="396.75" y2="581.5" stroke="#000" stroke-width="2"/><line x1="418.75" y1="556" x2="396.75" y2="581.5" stroke="#000" stroke-width="2"/><line x1="396.75" y1="581.5" x2="396.75" y2="608.25" stroke="#000" stroke-width="2"/><line x1="396.75" y1="608.25" x2="396.75" y2="635.25" stroke="#000" stroke-width="2"/><circle cx="376" cy="531.5" r="7.0" fill="#33bb33" stroke="#000" stroke-width="1.9"/><circle cx="402.5" cy="531.5" r="7.0" fill="#33bb33" stroke="#000" stroke-width="1.9"/><circle cx="432" cy="530.5" r="7.0" fill="#33bb33" stroke="#000" stroke-width="1.9"/><circle cx="376.25" cy="556" r="7.0" fill="#33bb33" stroke="#000" stroke-width="1.9"/><circle cx="418.75" cy="556" r="7.0" fill="#33bb33" stroke="#000" stroke-width="1.9"/><circle cx="396.75" cy="581.5" r="7.0" fill="#33bb33" stroke="#000" stroke-width="1.9"/><rect x="390.50" y="602.00" width="12.5" height="12.5" fill="#0000ff" stroke="#000" stroke-width="1.9"/><rect x="390.50" y="629.00" width="12.5" height="12.5" fill="#0000ff" stroke="#000" stroke-width="1.9"/></g>
<g><line x1="452" y1="255.5" x2="452" y2="285.75" stroke="#000" stroke-width="2"/><line x1="429.5" y1="320.75" x2="450" y2="345.75" stroke="#000" stroke-width="2"/><line x1="471.75" y1="320.75" x2="450" y2="345.75" stroke="#000" stroke-width="2"/><line x1="450" y1="345.75" x2="450" y2="372" stroke="#000" stroke-width="2"/><line x1="450" y1="372" x2="450.5" y2="397.5" stroke="#000" stroke-width="2"/><line x1="450.5" y1="398" x2="476.25" y2="398" stroke="#000" stroke-width="2"/><line x1="435" y1="302.5" x2="470" y2="302.5" stroke="#000" stroke-width="2"/><circle cx="452" cy="255.5" r="7.0" fill="#ffff00" stroke="#000" stroke-width="1.9"/><rect x="445.75" y="279.50" width="12.5" height="12.5" fill="#0000ff" stroke="#000" stroke-width="1.9"/><circle cx="429.5" cy="320.75" r="7.0" fill="#33bb33" stroke="#000" stroke-width="1.9"/><circle cx="471.75" cy="320.75" r="7.0" fill="#33bb33" stroke="#000" stroke-width="1.9"/><circle cx="450" cy="345.75" r="7.0" fill="#33bb33" stroke="#000" stroke-width="1.9"/><rect x="443.75" y="365.75" width="12.5" height="12.5" fill="#0000ff" stroke="#000" stroke-width="1.9"/><rect x="444.25" y="391.25" width="12.5" height="12.5" fill="#0000ff" stroke="#000" stroke-width="1.9"/><path d="M474.65 398 L488.15 390.7 L488.15 405.3 Z" fill="#ff0000" stroke="#000" stroke-width="1.9" stroke-linejoin="miter"/></g>
<g><line x1="503" y1="152" x2="503" y2="180.5" stroke="#000" stroke-width="2"/><line x1="503" y1="180.5" x2="503" y2="208.25" stroke="#000" stroke-width="2"/><line x1="545.5" y1="178" x2="545.5" y2="208.25" stroke="#000" stroke-width="2"/><line x1="503" y1="208.25" x2="523.25" y2="233.25" stroke="#000" stroke-width="2"/><line x1="545.5" y1="208.25" x2="523.25" y2="233.25" stroke="#000" stroke-width="2"/><line x1="523.25" y1="233.25" x2="523.25" y2="260" stroke="#000" stroke-width="2"/><line x1="523.25" y1="260" x2="523.5" y2="285" stroke="#000" stroke-width="2"/><circle cx="503" cy="152" r="7.0" fill="#ffff00" stroke="#000" stroke-width="1.9"/><rect x="496.75" y="174.25" width="12.5" height="12.5" fill="#0000ff" stroke="#000" stroke-width="1.9"/><circle cx="545.5" cy="178" r="7.0" fill="#66bb77" stroke="#000" stroke-width="1.9"/><circle cx="503" cy="208.25" r="7.0" fill="#33bb33" stroke="#000" stroke-width="1.9"/><circle cx="545.5" cy="208.25" r="7.0" fill="#33bb33" stroke="#000" stroke-width="1.9"/><circle cx="523.25" cy="233.25" r="7.0" fill="#33bb33" stroke="#000" stroke-width="1.9"/><rect x="517.00" y="253.75" width="12.5" height="12.5" fill="#0000ff" stroke="#000" stroke-width="1.9"/><rect x="517.25" y="278.75" width="12.5" height="12.5" fill="#0000ff" stroke="#000" stroke-width="1.9"/></g>
<g><line x1="538" y1="666.75" x2="538" y2="695" stroke="#000" stroke-width="2"/><line x1="580.5" y1="666.25" x2="580.5" y2="695" stroke="#000" stroke-width="2"/><line x1="538" y1="695" x2="558.75" y2="720" stroke="#000" stroke-width="2"/><line x1="580.5" y1="695" x2="558.75" y2="720" stroke="#000" stroke-width="2"/><line x1="558.75" y1="720" x2="558.75" y2="746.5" stroke="#000" stroke-width="2"/><line x1="558.75" y1="746.5" x2="558.75" y2="772" stroke="#000" stroke-width="2"/><line x1="558.75" y1="772.25" x2="584.75" y2="772.25" stroke="#000" stroke-width="2"/><rect x="531.75" y="660.50" width="12.5" height="12.5" fill="#0000ff" stroke="#000" stroke-width="1.9"/><rect x="574.25" y="660.00" width="12.5" height="12.5" fill="#0000ff" stroke="#000" stroke-width="1.9"/><circle cx="538" cy="695" r="7.0" fill="#33bb33" stroke="#000" stroke-width="1.9"/><circle cx="580.5" cy="695" r="7.0" fill="#33bb33" stroke="#000" stroke-width="1.9"/><circle cx="558.75" cy="720" r="7.0" fill="#33bb33" stroke="#000" stroke-width="1.9"/><rect x="552.50" y="740.25" width="12.5" height="12.5" fill="#0000ff" stroke="#000" stroke-width="1.9"/><rect x="552.50" y="765.75" width="12.5" height="12.5" fill="#0000ff" stroke="#000" stroke-width="1.9"/><path d="M583.15 772.25 L596.65 764.95 L596.65 779.55 Z" fill="#ff0000" stroke="#000" stroke-width="1.9" stroke-linejoin="miter"/></g>
<g><line x1="600.75" y1="399.5" x2="600.75" y2="424.25" stroke="#000" stroke-width="2"/><line x1="628" y1="399.5" x2="643.25" y2="424.25" stroke="#000" stroke-width="2"/><line x1="657" y1="398.25" x2="643.25" y2="424.25" stroke="#000" stroke-width="2"/><line x1="600.75" y1="424.25" x2="622.5" y2="449.25" stroke="#000" stroke-width="2"/><line x1="643.25" y1="424.25" x2="622.5" y2="449.25" stroke="#000" stroke-width="2"/><line x1="622.5" y1="449.25" x2="622" y2="475.75" stroke="#000" stroke-width="2"/><line x1="622" y1="475.75" x2="622" y2="502.5" stroke="#000" stroke-width="2"/><line x1="601.25" y1="380.75" x2="656.75" y2="380.75" stroke="#000" stroke-width="2"/><circle cx="626.75" cy="367.5" r="7.0" fill="#33bb33" stroke="#000" stroke-width="1.9"/><circle cx="600.75" cy="399.5" r="7.0" fill="#33bb33" stroke="#000" stroke-width="1.9"/><circle cx="628" cy="399.5" r="7.0" fill="#33bb33" stroke="#000" stroke-width="1.9"/><circle cx="657" cy="398.25" r="7.0" fill="#33bb33" stroke="#000" stroke-width="1.9"/><circle cx="600.75" cy="424.25" r="7.0" fill="#33bb33" stroke="#000" stroke-width="1.9"/><circle cx="643.25" cy="424.25" r="7.0" fill="#33bb33" stroke="#000" stroke-width="1.9"/><circle cx="622.5" cy="449.25" r="7.0" fill="#33bb33" stroke="#000" stroke-width="1.9"/><rect x="615.75" y="469.50" width="12.5" height="12.5" fill="#0000ff" stroke="#000" stroke-width="1.9"/><rect x="615.75" y="496.25" width="12.5" height="12.5" fill="#0000ff" stroke="#000" stroke-width="1.9"/></g>
<g><line x1="646.75" y1="108.25" x2="648" y2="139.5" stroke="#000" stroke-width="2"/><line x1="674.25" y1="115.5" x2="690.5" y2="139.5" stroke="#000" stroke-width="2"/><line x1="703.25" y1="114.25" x2="690.5" y2="139.5" stroke="#000" stroke-width="2"/><line x1="648" y1="139.5" x2="668.75" y2="165" stroke="#000" stroke-width="2"/><line x1="690.5" y1="139.5" x2="668.75" y2="165" stroke="#000" stroke-width="2"/><line x1="668.75" y1="165" x2="668.75" y2="191.75" stroke="#000" stroke-width="2"/><line x1="668.75" y1="191.75" x2="668.75" y2="218.75" stroke="#000" stroke-width="2"/><line x1="668.75" y1="218.4" x2="694.25" y2="218.4" stroke="#000" stroke-width="2"/><rect x="640.50" y="102.00" width="12.5" height="12.5" fill="#0000ff" stroke="#000" stroke-width="1.9"/><circle cx="674.25" cy="115.5" r="7.0" fill="#33bb33" stroke="#000" stroke-width="1.9"/><circle cx="703.25" cy="114.25" r="7.0" fill="#33bb33" stroke="#000" stroke-width="1.9"/><circle cx="648" cy="139.5" r="7.0" fill="#33bb33" stroke="#000" stroke-width="1.9"/><circle cx="690.5" cy="139.5" r="7.0" fill="#33bb33" stroke="#000" stroke-width="1.9"/><circle cx="668.75" cy="165" r="7.0" fill="#33bb33" stroke="#000" stroke-width="1.9"/><rect x="662.50" y="185.50" width="12.5" height="12.5" fill="#0000ff" stroke="#000" stroke-width="1.9"/><rect x="662.50" y="212.50" width="12.5" height="12.5" fill="#0000ff" stroke="#000" stroke-width="1.9"/><path d="M692.65 218.4 L706.15 211.1 L706.15 225.70000000000002 Z" fill="#ff0000" stroke="#000" stroke-width="1.9" stroke-linejoin="miter"/></g>
<g><line x1="726.25" y1="468.25" x2="726.25" y2="497" stroke="#000" stroke-width="2"/><line x1="726.25" y1="497" x2="727.5" y2="527" stroke="#000" stroke-width="2"/><line x1="753.75" y1="503.25" x2="770" y2="527" stroke="#000" stroke-width="2"/><line x1="782.5" y1="502" x2="770" y2="527" stroke="#000" stroke-width="2"/><line x1="727.5" y1="527" x2="748.25" y2="552" stroke="#000" stroke-width="2"/><line x1="770" y1="527" x2="748.25" y2="552" stroke="#000" stroke-width="2"/><line x1="748.25" y1="552" x2="747.5" y2="578.75" stroke="#000" stroke-width="2"/><line x1="747.5" y1="578.75" x2="747.5" y2="606.25" stroke="#000" stroke-width="2"/><circle cx="726.25" cy="468.25" r="7.0" fill="#ffff00" stroke="#000" stroke-width="1.9"/><rect x="720.00" y="490.75" width="12.5" height="12.5" fill="#0000ff" stroke="#000" stroke-width="1.9"/><circle cx="753.75" cy="503.25" r="7.0" fill="#33bb33" stroke="#000" stroke-width="1.9"/><circle cx="782.5" cy="502" r="7.0" fill="#33bb33" stroke="#000" stroke-width="1.9"/><circle cx="727.5" cy="527" r="7.0" fill="#33bb33" stroke="#000" stroke-width="1.9"/><circle cx="770" cy="527" r="7.0" fill="#33bb33" stroke="#000" stroke-width="1.9"/><circle cx="748.25" cy="552" r="7.0" fill="#33bb33" stroke="#000" stroke-width="1.9"/><rect x="741.25" y="572.50" width="12.5" height="12.5" fill="#0000ff" stroke="#000" stroke-width="1.9"/><rect x="741.25" y="600.00" width="12.5" height="12.5" fill="#0000ff" stroke="#000" stroke-width="1.9"/></g>
<g><line x1="835" y1="580" x2="835" y2="609.25" stroke="#000" stroke-width="2"/><line x1="877.5" y1="579.25" x2="877" y2="609.25" stroke="#000" stroke-width="2"/><line x1="835" y1="609.25" x2="855.75" y2="633.75" stroke="#000" stroke-width="2"/><line x1="877" y1="609.25" x2="855.75" y2="633.75" stroke="#000" stroke-width="2"/><line x1="855.75" y1="633.75" x2="855.75" y2="660.5" stroke="#000" stroke-width="2"/><line x1="855.75" y1="660.5" x2="855.75" y2="685.75" stroke="#000" stroke-width="2"/><line x1="855.75" y1="686" x2="882.5" y2="686" stroke="#000" stroke-width="2"/><line x1="839.25" y1="560" x2="876.25" y2="560" stroke="#000" stroke-width="2"/><circle cx="857.5" cy="543.75" r="7.0" fill="#ffff00" stroke="#000" stroke-width="1.9"/><rect x="828.75" y="573.75" width="12.5" height="12.5" fill="#0000ff" stroke="#000" stroke-width="1.9"/><rect x="871.25" y="573.00" width="12.5" height="12.5" fill="#0000ff" stroke="#000" stroke-width="1.9"/><circle cx="835" cy="609.25" r="7.0" fill="#33bb33" stroke="#000" stroke-width="1.9"/><circle cx="877" cy="609.25" r="7.0" fill="#33bb33" stroke="#000" stroke-width="1.9"/><circle cx="855.75" cy="633.75" r="7.0" fill="#33bb33" stroke="#000" stroke-width="1.9"/><rect x="849.50" y="654.25" width="12.5" height="12.5" fill="#0000ff" stroke="#000" stroke-width="1.9"/><rect x="849.50" y="679.50" width="12.5" height="12.5" fill="#0000ff" stroke="#000" stroke-width="1.9"/><path d="M880.90 686 L894.40 678.7 L894.40 693.3 Z" fill="#ff0000" stroke="#000" stroke-width="1.9" stroke-linejoin="miter"/></g>
<g><line x1="952" y1="623" x2="952" y2="650.75" stroke="#000" stroke-width="2"/><line x1="994.25" y1="624.25" x2="994.25" y2="650.75" stroke="#000" stroke-width="2"/><line x1="952" y1="650.75" x2="952" y2="677.5" stroke="#000" stroke-width="2"/><line x1="994.25" y1="650.75" x2="994.25" y2="677.5" stroke="#000" stroke-width="2"/><line x1="952" y1="677.5" x2="972.5" y2="703.75" stroke="#000" stroke-width="2"/><line x1="994.25" y1="677.5" x2="972.5" y2="703.75" stroke="#000" stroke-width="2"/><line x1="972.5" y1="703.75" x2="972.5" y2="730.5" stroke="#000" stroke-width="2"/><line x1="972.5" y1="730.5" x2="972.5" y2="755.75" stroke="#000" stroke-width="2"/><line x1="956.25" y1="604.5" x2="991.75" y2="604.5" stroke="#000" stroke-width="2"/><path d="M975 569.75 L982.3 580.75 L975 591.75 L967.7 580.75 Z" fill="#cc00ff" stroke="#000" stroke-width="1.5"/><circle cx="952" cy="623" r="7.0" fill="#ffff00" stroke="#000" stroke-width="1.9"/><circle cx="994.25" cy="624.25" r="7.0" fill="#ffff00" stroke="#000" stroke-width="1.9"/><rect x="945.75" y="644.50" width="12.5" height="12.5" fill="#0000ff" stroke="#000" stroke-width="1.9"/><rect x="988.00" y="644.50" width="12.5" height="12.5" fill="#0000ff" stroke="#000" stroke-width="1.9"/><circle cx="952" cy="677.5" r="7.0" fill="#33bb33" stroke="#000" stroke-width="1.9"/><circle cx="994.25" cy="677.5" r="7.0" fill="#33bb33" stroke="#000" stroke-width="1.9"/><circle cx="972.5" cy="703.75" r="7.0" fill="#33bb33" stroke="#000" stroke-width="1.9"/><rect x="966.25" y="724.25" width="12.5" height="12.5" fill="#0000ff" stroke="#000" stroke-width="1.9"/><rect x="966.25" y="749.50" width="12.5" height="12.5" fill="#0000ff" stroke="#000" stroke-width="1.9"/></g>
<g><line x1="1016.25" y1="206.75" x2="1016.25" y2="234.5" stroke="#000" stroke-width="2"/><line x1="1058.75" y1="206.75" x2="1058.75" y2="234.5" stroke="#000" stroke-width="2"/><line x1="1016.25" y1="234.5" x2="1036.75" y2="260.5" stroke="#000" stroke-width="2"/><line x1="1058.75" y1="234.5" x2="1036.75" y2="260.5" stroke="#000" stroke-width="2"/><line x1="1036.75" y1="260.5" x2="1036.75" y2="287" stroke="#000" stroke-width="2"/><line x1="1036.75" y1="287" x2="1037.25" y2="312.25" stroke="#000" stroke-width="2"/><line x1="1037.25" y1="312.2" x2="1063" y2="312.2" stroke="#000" stroke-width="2"/><line x1="1021.25" y1="187" x2="1057" y2="187" stroke="#000" stroke-width="2"/><rect x="1032.50" y="164.25" width="12.5" height="12.5" fill="#0000ff" stroke="#000" stroke-width="1.9"/><rect x="1010.00" y="200.50" width="12.5" height="12.5" fill="#0000ff" stroke="#000" stroke-width="1.9"/><rect x="1052.50" y="200.50" width="12.5" height="12.5" fill="#0000ff" stroke="#000" stroke-width="1.9"/><circle cx="1016.25" cy="234.5" r="7.0" fill="#33bb33" stroke="#000" stroke-width="1.9"/><circle cx="1058.75" cy="234.5" r="7.0" fill="#33bb33" stroke="#000" stroke-width="1.9"/><circle cx="1036.75" cy="260.5" r="7.0" fill="#33bb33" stroke="#000" stroke-width="1.9"/><rect x="1030.50" y="280.75" width="12.5" height="12.5" fill="#0000ff" stroke="#000" stroke-width="1.9"/><rect x="1031.00" y="306.00" width="12.5" height="12.5" fill="#0000ff" stroke="#000" stroke-width="1.9"/><path d="M1061.40 312.2 L1074.90 304.9 L1074.90 319.5 Z" fill="#ff0000" stroke="#000" stroke-width="1.9" stroke-linejoin="miter"/></g>
<g><line x1="1055.5" y1="501.25" x2="1056.25" y2="524.5" stroke="#000" stroke-width="2"/><line x1="1082.5" y1="501.25" x2="1098.25" y2="524.5" stroke="#000" stroke-width="2"/><line x1="1111.75" y1="499.5" x2="1098.25" y2="524.5" stroke="#000" stroke-width="2"/><line x1="1056.25" y1="524.5" x2="1076.75" y2="550" stroke="#000" stroke-width="2"/><line x1="1098.25" y1="524.5" x2="1076.75" y2="550" stroke="#000" stroke-width="2"/><line x1="1076.75" y1="550" x2="1076.75" y2="577" stroke="#000" stroke-width="2"/><line x1="1076.75" y1="577" x2="1076.75" y2="604.25" stroke="#000" stroke-width="2"/><line x1="1056.25" y1="482" x2="1111.25" y2="482" stroke="#000" stroke-width="2"/><circle cx="1070" cy="467.5" r="7.0" fill="#33bb33" stroke="#000" stroke-width="1.9"/><circle cx="1093" cy="468.25" r="7.0" fill="#33bb33" stroke="#000" stroke-width="1.9"/><circle cx="1055.5" cy="501.25" r="7.0" fill="#33bb33" stroke="#000" stroke-width="1.9"/><circle cx="1082.5" cy="501.25" r="7.0" fill="#33bb33" stroke="#000" stroke-width="1.9"/><circle cx="1111.75" cy="499.5" r="7.0" fill="#33bb33" stroke="#000" stroke-width="1.9"/><circle cx="1056.25" cy="524.5" r="7.0" fill="#33bb33" stroke="#000" stroke-width="1.9"/><circle cx="1098.25" cy="524.5" r="7.0" fill="#33bb33" stroke="#000" stroke-width="1.9"/><circle cx="1076.75" cy="550" r="7.0" fill="#33bb33" stroke="#000" stroke-width="1.9"/><rect x="1070.50" y="570.75" width="12.5" height="12.5" fill="#0000ff" stroke="#000" stroke-width="1.9"/><rect x="1070.50" y="598.00" width="12.5" height="12.5" fill="#0000ff" stroke="#000" stroke-width="1.9"/></g>
<g><line x1="1108.25" y1="80" x2="1109.5" y2="110.5" stroke="#000" stroke-width="2"/><line x1="1135.5" y1="86.25" x2="1152" y2="110.5" stroke="#000" stroke-width="2"/><line x1="1164.5" y1="85.5" x2="1152" y2="110.5" stroke="#000" stroke-width="2"/><line x1="1109.5" y1="110.5" x2="1130" y2="135.5" stroke="#000" stroke-width="2"/><line x1="1152" y1="110.5" x2="1130" y2="135.5" stroke="#000" stroke-width="2"/><line x1="1130" y1="135.5" x2="1130" y2="162" stroke="#000" stroke-width="2"/><line x1="1130" y1="162" x2="1130" y2="189.25" stroke="#000" stroke-width="2"/><line x1="1130" y1="189.4" x2="1156.75" y2="189.4" stroke="#000" stroke-width="2"/><rect x="1102.00" y="73.75" width="12.5" height="12.5" fill="#0000ff" stroke="#000" stroke-width="1.9"/><circle cx="1135.5" cy="86.25" r="7.0" fill="#33bb33" stroke="#000" stroke-width="1.9"/><circle cx="1164.5" cy="85.5" r="7.0" fill="#33bb33" stroke="#000" stroke-width="1.9"/><circle cx="1109.5" cy="110.5" r="7.0" fill="#33bb33" stroke="#000" stroke-width="1.9"/><circle cx="1152" cy="110.5" r="7.0" fill="#33bb33" stroke="#000" stroke-width="1.9"/><circle cx="1130" cy="135.5" r="7.0" fill="#33bb33" stroke="#000" stroke-width="1.9"/><rect x="1123.75" y="155.75" width="12.5" height="12.5" fill="#0000ff" stroke="#000" stroke-width="1.9"/><rect x="1123.75" y="183.00" width="12.5" height="12.5" fill="#0000ff" stroke="#000" stroke-width="1.9"/><path d="M1155.15 189.4 L1168.65 182.1 L1168.65 196.70000000000002 Z" fill="#ff0000" stroke="#000" stroke-width="1.9" stroke-linejoin="miter"/></g>
<g><line x1="1215.75" y1="365" x2="1215.75" y2="392.5" stroke="#000" stroke-width="2"/><line x1="1258.25" y1="365" x2="1258.25" y2="392.5" stroke="#000" stroke-width="2"/><line x1="1215.75" y1="392.5" x2="1215.75" y2="420.75" stroke="#000" stroke-width="2"/><line x1="1258.25" y1="392.5" x2="1258.25" y2="420.75" stroke="#000" stroke-width="2"/><line x1="1215.75" y1="420.75" x2="1236.75" y2="445.75" stroke="#000" stroke-width="2"/><line x1="1258.25" y1="420.75" x2="1236.75" y2="445.75" stroke="#000" stroke-width="2"/><line x1="1236.75" y1="445.75" x2="1236.75" y2="472" stroke="#000" stroke-width="2"/><line x1="1236.75" y1="472" x2="1236.75" y2="497.5" stroke="#000" stroke-width="2"/><line x1="1236.75" y1="497.6" x2="1262.5" y2="497.6" stroke="#000" stroke-width="2"/><circle cx="1215.75" cy="365" r="7.0" fill="#ffff00" stroke="#000" stroke-width="1.9"/><circle cx="1258.25" cy="365" r="7.0" fill="#ffff00" stroke="#000" stroke-width="1.9"/><rect x="1209.50" y="386.25" width="12.5" height="12.5" fill="#0000ff" stroke="#000" stroke-width="1.9"/><rect x="1252.00" y="386.25" width="12.5" height="12.5" fill="#0000ff" stroke="#000" stroke-width="1.9"/><circle cx="1215.75" cy="420.75" r="7.0" fill="#33bb33" stroke="#000" stroke-width="1.9"/><circle cx="1258.25" cy="420.75" r="7.0" fill="#33bb33" stroke="#000" stroke-width="1.9"/><circle cx="1236.75" cy="445.75" r="7.0" fill="#33bb33" stroke="#000" stroke-width="1.9"/><rect x="1230.50" y="465.75" width="12.5" height="12.5" fill="#0000ff" stroke="#000" stroke-width="1.9"/><rect x="1230.50" y="491.25" width="12.5" height="12.5" fill="#0000ff" stroke="#000" stroke-width="1.9"/><path d="M1260.90 497.6 L1274.40 490.3 L1274.40 504.90000000000003 Z" fill="#ff0000" stroke="#000" stroke-width="1.9" stroke-linejoin="miter"/></g>
<g><line x1="1363.2" y1="610.4" x2="1363.2" y2="638.2" stroke="#000" stroke-width="2"/><line x1="1405.4" y1="610.4" x2="1405.4" y2="638.2" stroke="#000" stroke-width="2"/><line x1="1363.2" y1="638.2" x2="1384.4" y2="664.3" stroke="#000" stroke-width="2"/><line x1="1405.4" y1="638.2" x2="1384.4" y2="664.3" stroke="#000" stroke-width="2"/><line x1="1384.4" y1="664.3" x2="1384.5" y2="691.25" stroke="#000" stroke-width="2"/><line x1="1384.5" y1="691.25" x2="1384.5" y2="716.25" stroke="#000" stroke-width="2"/><line x1="1384.5" y1="716.4" x2="1410" y2="716.4" stroke="#000" stroke-width="2"/><line x1="1366.1" y1="593" x2="1403.1" y2="593" stroke="#000" stroke-width="2"/><line x1="1384.6" y1="641.5" x2="1384.6" y2="652.5" stroke="#000" stroke-width="2"/><circle cx="1384.1" cy="576.4" r="7.0" fill="#ffff00" stroke="#000" stroke-width="1.9"/><rect x="1356.95" y="604.15" width="12.5" height="12.5" fill="#0000ff" stroke="#000" stroke-width="1.9"/><rect x="1399.15" y="604.15" width="12.5" height="12.5" fill="#0000ff" stroke="#000" stroke-width="1.9"/><rect x="1378.75" y="625.95" width="12.5" height="12.5" fill="#0000ff" stroke="#000" stroke-width="1.9"/><circle cx="1363.2" cy="638.2" r="7.0" fill="#33bb33" stroke="#000" stroke-width="1.9"/><circle cx="1405.4" cy="638.2" r="7.0" fill="#33bb33" stroke="#000" stroke-width="1.9"/><circle cx="1384.4" cy="664.3" r="7.0" fill="#33bb33" stroke="#000" stroke-width="1.9"/><rect x="1378.25" y="685.00" width="12.5" height="12.5" fill="#0000ff" stroke="#000" stroke-width="1.9"/><rect x="1378.25" y="710.00" width="12.5" height="12.5" fill="#0000ff" stroke="#000" stroke-width="1.9"/><path d="M1408.40 716.4 L1421.90 709.1 L1421.90 723.6999999999999 Z" fill="#ff0000" stroke="#000" stroke-width="1.9" stroke-linejoin="miter"/></g>
<g><line x1="1445.5" y1="323.25" x2="1445" y2="352.5" stroke="#000" stroke-width="2"/><line x1="1471.25" y1="323.25" x2="1472" y2="352.5" stroke="#000" stroke-width="2"/><line x1="1501.25" y1="322.5" x2="1501.25" y2="351.25" stroke="#000" stroke-width="2"/><line x1="1445" y1="352.5" x2="1445" y2="377" stroke="#000" stroke-width="2"/><line x1="1472" y1="352.5" x2="1488" y2="377" stroke="#000" stroke-width="2"/><line x1="1501.25" y1="351.25" x2="1488" y2="377" stroke="#000" stroke-width="2"/><line x1="1445" y1="377" x2="1467" y2="402.5" stroke="#000" stroke-width="2"/><line x1="1488" y1="377" x2="1467" y2="402.5" stroke="#000" stroke-width="2"/><line x1="1467" y1="402.5" x2="1467" y2="428.75" stroke="#000" stroke-width="2"/><line x1="1467" y1="428.75" x2="1467" y2="455.75" stroke="#000" stroke-width="2"/><circle cx="1445.5" cy="323.25" r="7.0" fill="#33bb33" stroke="#000" stroke-width="1.9"/><circle cx="1471.25" cy="323.25" r="7.0" fill="#33bb33" stroke="#000" stroke-width="1.9"/><circle cx="1501.25" cy="322.5" r="7.0" fill="#33bb33" stroke="#000" stroke-width="1.9"/><circle cx="1445" cy="352.5" r="7.0" fill="#33bb33" stroke="#000" stroke-width="1.9"/><circle cx="1472" cy="352.5" r="7.0" fill="#33bb33" stroke="#000" stroke-width="1.9"/><circle cx="1501.25" cy="351.25" r="7.0" fill="#33bb33" stroke="#000" stroke-width="1.9"/><circle cx="1445" cy="377" r="7.0" fill="#33bb33" stroke="#000" stroke-width="1.9"/><circle cx="1488" cy="377" r="7.0" fill="#33bb33" stroke="#000" stroke-width="1.9"/><circle cx="1467" cy="402.5" r="7.0" fill="#33bb33" stroke="#000" stroke-width="1.9"/><rect x="1460.75" y="422.50" width="12.5" height="12.5" fill="#0000ff" stroke="#000" stroke-width="1.9"/><rect x="1460.75" y="449.50" width="12.5" height="12.5" fill="#0000ff" stroke="#000" stroke-width="1.9"/></g>
<g><line x1="1515" y1="46.25" x2="1515" y2="74.5" stroke="#000" stroke-width="2"/><line x1="1556.75" y1="46.25" x2="1556.75" y2="74.5" stroke="#000" stroke-width="2"/><line x1="1515" y1="74.5" x2="1515" y2="102.5" stroke="#000" stroke-width="2"/><line x1="1556.75" y1="74.5" x2="1556.75" y2="102.5" stroke="#000" stroke-width="2"/><line x1="1515" y1="102.5" x2="1535" y2="127.5" stroke="#000" stroke-width="2"/><line x1="1556.75" y1="102.5" x2="1535" y2="127.5" stroke="#000" stroke-width="2"/><line x1="1535" y1="127.5" x2="1535" y2="154.25" stroke="#000" stroke-width="2"/><line x1="1535" y1="154.25" x2="1535" y2="179.25" stroke="#000" stroke-width="2"/><line x1="1535" y1="179.4" x2="1561" y2="179.4" stroke="#000" stroke-width="2"/><line x1="1520" y1="29.25" x2="1555" y2="29.25" stroke="#000" stroke-width="2"/><circle cx="1537" cy="11.25" r="7.0" fill="#ffff00" stroke="#000" stroke-width="1.9"/><circle cx="1515" cy="46.25" r="7.0" fill="#ffff00" stroke="#000" stroke-width="1.9"/><circle cx="1556.75" cy="46.25" r="7.0" fill="#ffff00" stroke="#000" stroke-width="1.9"/><rect x="1508.75" y="68.25" width="12.5" height="12.5" fill="#0000ff" stroke="#000" stroke-width="1.9"/><rect x="1550.50" y="68.25" width="12.5" height="12.5" fill="#0000ff" stroke="#000" stroke-width="1.9"/><circle cx="1515" cy="102.5" r="7.0" fill="#33bb33" stroke="#000" stroke-width="1.9"/><circle cx="1556.75" cy="102.5" r="7.0" fill="#33bb33" stroke="#000" stroke-width="1.9"/><circle cx="1535" cy="127.5" r="7.0" fill="#33bb33" stroke="#000" stroke-width="1.9"/><rect x="1528.75" y="148.00" width="12.5" height="12.5" fill="#0000ff" stroke="#000" stroke-width="1.9"/><rect x="1528.75" y="173.00" width="12.5" height="12.5" fill="#0000ff" stroke="#000" stroke-width="1.9"/><path d="M1559.40 179.4 L1572.90 172.1 L1572.90 186.70000000000002 Z" fill="#ff0000" stroke="#000" stroke-width="1.9" stroke-linejoin="miter"/></g>
<g><line x1="1556.25" y1="378.25" x2="1556.25" y2="405.75" stroke="#000" stroke-width="2"/><line x1="1598.75" y1="378.25" x2="1598.75" y2="405.75" stroke="#000" stroke-width="2"/><line x1="1556.25" y1="405.75" x2="1556.25" y2="433.75" stroke="#000" stroke-width="2"/><line x1="1598.75" y1="405.75" x2="1598.75" y2="433.75" stroke="#000" stroke-width="2"/><line x1="1556.25" y1="433.75" x2="1577.5" y2="459.5" stroke="#000" stroke-width="2"/><line x1="1598.75" y1="433.75" x2="1577.5" y2="459.5" stroke="#000" stroke-width="2"/><line x1="1577.5" y1="459.5" x2="1577.5" y2="486.25" stroke="#000" stroke-width="2"/><line x1="1577.5" y1="486.25" x2="1577.5" y2="511.25" stroke="#000" stroke-width="2"/><line x1="1577.5" y1="511.4" x2="1603.5" y2="511.4" stroke="#000" stroke-width="2"/><line x1="1577.7" y1="437" x2="1577.7" y2="447.5" stroke="#000" stroke-width="2"/><circle cx="1556.25" cy="378.25" r="7.0" fill="#ffff00" stroke="#000" stroke-width="1.9"/><circle cx="1598.75" cy="378.25" r="7.0" fill="#ffff00" stroke="#000" stroke-width="1.9"/><rect x="1550.00" y="399.50" width="12.5" height="12.5" fill="#0000ff" stroke="#000" stroke-width="1.9"/><rect x="1592.50" y="399.50" width="12.5" height="12.5" fill="#0000ff" stroke="#000" stroke-width="1.9"/><rect x="1571.75" y="420.75" width="12.5" height="12.5" fill="#0000ff" stroke="#000" stroke-width="1.9"/><circle cx="1556.25" cy="433.75" r="7.0" fill="#33bb33" stroke="#000" stroke-width="1.9"/><circle cx="1598.75" cy="433.75" r="7.0" fill="#33bb33" stroke="#000" stroke-width="1.9"/><circle cx="1577.5" cy="459.5" r="7.0" fill="#33bb33" stroke="#000" stroke-width="1.9"/><rect x="1571.25" y="480.00" width="12.5" height="12.5" fill="#0000ff" stroke="#000" stroke-width="1.9"/><rect x="1571.25" y="505.00" width="12.5" height="12.5" fill="#0000ff" stroke="#000" stroke-width="1.9"/><path d="M1601.90 511.4 L1615.40 504.09999999999997 L1615.40 518.6999999999999 Z" fill="#ff0000" stroke="#000" stroke-width="1.9" stroke-linejoin="miter"/></g>
<g><line x1="1673.75" y1="353.25" x2="1673.75" y2="382.5" stroke="#000" stroke-width="2"/><line x1="1668" y1="416.5" x2="1668" y2="444.5" stroke="#000" stroke-width="2"/><line x1="1710" y1="416.5" x2="1710" y2="444.5" stroke="#000" stroke-width="2"/><line x1="1668" y1="444.5" x2="1668" y2="472" stroke="#000" stroke-width="2"/><line x1="1710" y1="444.5" x2="1710" y2="472" stroke="#000" stroke-width="2"/><line x1="1668" y1="472" x2="1689.25" y2="497.75" stroke="#000" stroke-width="2"/><line x1="1710" y1="472" x2="1689.25" y2="497.75" stroke="#000" stroke-width="2"/><line x1="1689.25" y1="497.75" x2="1689.25" y2="524" stroke="#000" stroke-width="2"/><line x1="1689.25" y1="524" x2="1689.25" y2="550.25" stroke="#000" stroke-width="2"/><line x1="1665" y1="398.75" x2="1710" y2="398.75" stroke="#000" stroke-width="2"/><circle cx="1673.75" cy="353.25" r="7.0" fill="#ffff00" stroke="#000" stroke-width="1.9"/><rect x="1667.50" y="376.25" width="12.5" height="12.5" fill="#0000ff" stroke="#000" stroke-width="1.9"/><path d="M1702.5 365.5 L1709.8 376.5 L1702.5 387.5 L1695.2 376.5 Z" fill="#cc00ff" stroke="#000" stroke-width="1.5"/><circle cx="1668" cy="416.5" r="7.0" fill="#ffff00" stroke="#000" stroke-width="1.9"/><circle cx="1710" cy="416.5" r="7.0" fill="#ffff00" stroke="#000" stroke-width="1.9"/><rect x="1661.75" y="438.25" width="12.5" height="12.5" fill="#0000ff" stroke="#000" stroke-width="1.9"/><rect x="1703.75" y="438.25" width="12.5" height="12.5" fill="#0000ff" stroke="#000" stroke-width="1.9"/><circle cx="1668" cy="472" r="7.0" fill="#33bb33" stroke="#000" stroke-width="1.9"/><circle cx="1710" cy="472" r="7.0" fill="#33bb33" stroke="#000" stroke-width="1.9"/><circle cx="1689.25" cy="497.75" r="7.0" fill="#33bb33" stroke="#000" stroke-width="1.9"/><rect x="1683.00" y="517.75" width="12.5" height="12.5" fill="#0000ff" stroke="#000" stroke-width="1.9"/><rect x="1683.00" y="544.00" width="12.5" height="12.5" fill="#0000ff" stroke="#000" stroke-width="1.9"/></g>
<g><line x1="1750" y1="494.5" x2="1750" y2="522" stroke="#000" stroke-width="2"/><line x1="1792.5" y1="494.5" x2="1792.5" y2="522" stroke="#000" stroke-width="2"/><line x1="1750" y1="522" x2="1750" y2="550.25" stroke="#000" stroke-width="2"/><line x1="1792.5" y1="522" x2="1792.5" y2="550.25" stroke="#000" stroke-width="2"/><line x1="1750" y1="550.25" x2="1771.25" y2="575.25" stroke="#000" stroke-width="2"/><line x1="1792.5" y1="550.25" x2="1771.25" y2="575.25" stroke="#000" stroke-width="2"/><line x1="1771.25" y1="575.25" x2="1771.25" y2="601.5" stroke="#000" stroke-width="2"/><line x1="1771.25" y1="601.5" x2="1771.25" y2="627" stroke="#000" stroke-width="2"/><line x1="1771.25" y1="627.2" x2="1797.5" y2="627.2" stroke="#000" stroke-width="2"/><line x1="1750.5" y1="476.5" x2="1792.5" y2="476.5" stroke="#000" stroke-width="2"/><circle cx="1762.5" cy="459.5" r="7.0" fill="#ffff00" stroke="#000" stroke-width="1.9"/><path d="M1777.75 451.5 L1791.75 451.5 L1784.75 466.1 Z" fill="#ff0000" stroke="#000" stroke-width="1.9"/><circle cx="1750" cy="494.5" r="7.0" fill="#ffff00" stroke="#000" stroke-width="1.9"/><circle cx="1792.5" cy="494.5" r="7.0" fill="#ffff00" stroke="#000" stroke-width="1.9"/><rect x="1743.75" y="515.75" width="12.5" height="12.5" fill="#0000ff" stroke="#000" stroke-width="1.9"/><rect x="1786.25" y="515.75" width="12.5" height="12.5" fill="#0000ff" stroke="#000" stroke-width="1.9"/><circle cx="1750" cy="550.25" r="7.0" fill="#33bb33" stroke="#000" stroke-width="1.9"/><circle cx="1792.5" cy="550.25" r="7.0" fill="#33bb33" stroke="#000" stroke-width="1.9"/><circle cx="1771.25" cy="575.25" r="7.0" fill="#33bb33" stroke="#000" stroke-width="1.9"/><rect x="1765.00" y="595.25" width="12.5" height="12.5" fill="#0000ff" stroke="#000" stroke-width="1.9"/><rect x="1765.00" y="620.75" width="12.5" height="12.5" fill="#0000ff" stroke="#000" stroke-width="1.9"/><path d="M1795.90 627.2 L1809.40 619.9000000000001 L1809.40 634.5 Z" fill="#ff0000" stroke="#000" stroke-width="1.9" stroke-linejoin="miter"/></g>
<g><line x1="1841.25" y1="304" x2="1841.25" y2="335" stroke="#000" stroke-width="2"/><line x1="1820" y1="371.5" x2="1820" y2="399" stroke="#000" stroke-width="2"/><line x1="1862" y1="371.5" x2="1862" y2="399" stroke="#000" stroke-width="2"/><line x1="1820" y1="399" x2="1820" y2="427" stroke="#000" stroke-width="2"/><line x1="1862" y1="399" x2="1862" y2="427" stroke="#000" stroke-width="2"/><line x1="1820" y1="427" x2="1840.75" y2="452.5" stroke="#000" stroke-width="2"/><line x1="1862" y1="427" x2="1840.75" y2="452.5" stroke="#000" stroke-width="2"/><line x1="1840.75" y1="452.5" x2="1840.75" y2="478.75" stroke="#000" stroke-width="2"/><line x1="1840.75" y1="478.75" x2="1840.75" y2="504" stroke="#000" stroke-width="2"/><line x1="1840.75" y1="504.2" x2="1865.5" y2="504.2" stroke="#000" stroke-width="2"/><line x1="1824.5" y1="351.5" x2="1860" y2="351.5" stroke="#000" stroke-width="2"/><circle cx="1841.25" cy="304" r="7.0" fill="#ffff00" stroke="#000" stroke-width="1.9"/><rect x="1835.00" y="328.75" width="12.5" height="12.5" fill="#0000ff" stroke="#000" stroke-width="1.9"/><circle cx="1820" cy="371.5" r="7.0" fill="#ffff00" stroke="#000" stroke-width="1.9"/><circle cx="1862" cy="371.5" r="7.0" fill="#ffff00" stroke="#000" stroke-width="1.9"/><rect x="1813.75" y="392.75" width="12.5" height="12.5" fill="#0000ff" stroke="#000" stroke-width="1.9"/><rect x="1855.75" y="392.75" width="12.5" height="12.5" fill="#0000ff" stroke="#000" stroke-width="1.9"/><circle cx="1820" cy="427" r="7.0" fill="#33bb33" stroke="#000" stroke-width="1.9"/><circle cx="1862" cy="427" r="7.0" fill="#33bb33" stroke="#000" stroke-width="1.9"/><circle cx="1840.75" cy="452.5" r="7.0" fill="#33bb33" stroke="#000" stroke-width="1.9"/><rect x="1834.50" y="472.50" width="12.5" height="12.5" fill="#0000ff" stroke="#000" stroke-width="1.9"/><rect x="1834.50" y="497.75" width="12.5" height="12.5" fill="#0000ff" stroke="#000" stroke-width="1.9"/><path d="M1863.90 504.2 L1877.40 496.9 L1877.40 511.5 Z" fill="#ff0000" stroke="#000" stroke-width="1.9" stroke-linejoin="miter"/></g>
<g><line x1="1902.5" y1="579.5" x2="1902.5" y2="609" stroke="#000" stroke-width="2"/><line x1="1893.25" y1="642.75" x2="1893.25" y2="670.25" stroke="#000" stroke-width="2"/><line x1="1935.75" y1="642.75" x2="1935.75" y2="670.25" stroke="#000" stroke-width="2"/><line x1="1893.25" y1="670.25" x2="1893.25" y2="698.25" stroke="#000" stroke-width="2"/><line x1="1935.75" y1="670.25" x2="1935.75" y2="698.25" stroke="#000" stroke-width="2"/><line x1="1893.25" y1="698.25" x2="1913.25" y2="723.25" stroke="#000" stroke-width="2"/><line x1="1935.75" y1="698.25" x2="1913.25" y2="723.25" stroke="#000" stroke-width="2"/><line x1="1913.25" y1="723.25" x2="1913.25" y2="749.75" stroke="#000" stroke-width="2"/><line x1="1913.25" y1="749.75" x2="1913.25" y2="775.25" stroke="#000" stroke-width="2"/><line x1="1913.25" y1="775.5" x2="1939.25" y2="775.5" stroke="#000" stroke-width="2"/><line x1="1892.5" y1="624.5" x2="1935" y2="624.5" stroke="#000" stroke-width="2"/><circle cx="1902.5" cy="579.5" r="7.0" fill="#ffff00" stroke="#000" stroke-width="1.9"/><rect x="1896.25" y="602.75" width="12.5" height="12.5" fill="#0000ff" stroke="#000" stroke-width="1.9"/><path d="M1920.0 599.2 L1934.0 599.2 L1927 613.8000000000001 Z" fill="#ff0000" stroke="#000" stroke-width="1.9"/><circle cx="1893.25" cy="642.75" r="7.0" fill="#ffff00" stroke="#000" stroke-width="1.9"/><circle cx="1935.75" cy="642.75" r="7.0" fill="#ffff00" stroke="#000" stroke-width="1.9"/><rect x="1887.00" y="664.00" width="12.5" height="12.5" fill="#0000ff" stroke="#000" stroke-width="1.9"/><rect x="1929.50" y="664.00" width="12.5" height="12.5" fill="#0000ff" stroke="#000" stroke-width="1.9"/><circle cx="1893.25" cy="698.25" r="7.0" fill="#33bb33" stroke="#000" stroke-width="1.9"/><circle cx="1935.75" cy="698.25" r="7.0" fill="#33bb33" stroke="#000" stroke-width="1.9"/><circle cx="1913.25" cy="723.25" r="7.0" fill="#33bb33" stroke="#000" stroke-width="1.9"/><rect x="1907.00" y="743.50" width="12.5" height="12.5" fill="#0000ff" stroke="#000" stroke-width="1.9"/><rect x="1907.00" y="769.00" width="12.5" height="12.5" fill="#0000ff" stroke="#000" stroke-width="1.9"/><path d="M1937.65 775.5 L1951.15 768.2 L1951.15 782.8 Z" fill="#ff0000" stroke="#000" stroke-width="1.9" stroke-linejoin="miter"/></g>
<g><line x1="1939.5" y1="360" x2="1939.5" y2="388.25" stroke="#000" stroke-width="2"/><line x1="1981.75" y1="360" x2="1981.75" y2="388.25" stroke="#000" stroke-width="2"/><line x1="1939.5" y1="388.25" x2="1939.5" y2="416.25" stroke="#000" stroke-width="2"/><line x1="1981.75" y1="388.25" x2="1981.75" y2="416.25" stroke="#000" stroke-width="2"/><line x1="1939.5" y1="416.25" x2="1960.5" y2="441.25" stroke="#000" stroke-width="2"/><line x1="1981.75" y1="416.25" x2="1960.5" y2="441.25" stroke="#000" stroke-width="2"/><line x1="1960.5" y1="441.25" x2="1960.5" y2="467.75" stroke="#000" stroke-width="2"/><line x1="1960.5" y1="467.75" x2="1960.5" y2="492.75" stroke="#000" stroke-width="2"/><line x1="1960.5" y1="493" x2="1986.25" y2="493" stroke="#000" stroke-width="2"/><line x1="1943.75" y1="342" x2="1980.75" y2="342" stroke="#000" stroke-width="2"/><circle cx="1948.75" cy="325" r="7.0" fill="#ffff00" stroke="#000" stroke-width="1.9"/><rect x="1964.50" y="317.50" width="12.5" height="12.5" fill="#0000ff" stroke="#000" stroke-width="1.9"/><circle cx="1939.5" cy="360" r="7.0" fill="#ffff00" stroke="#000" stroke-width="1.9"/><circle cx="1981.75" cy="360" r="7.0" fill="#ffff00" stroke="#000" stroke-width="1.9"/><rect x="1933.25" y="382.00" width="12.5" height="12.5" fill="#0000ff" stroke="#000" stroke-width="1.9"/><rect x="1975.50" y="382.00" width="12.5" height="12.5" fill="#0000ff" stroke="#000" stroke-width="1.9"/><circle cx="1939.5" cy="416.25" r="7.0" fill="#33bb33" stroke="#000" stroke-width="1.9"/><circle cx="1981.75" cy="416.25" r="7.0" fill="#33bb33" stroke="#000" stroke-width="1.9"/><circle cx="1960.5" cy="441.25" r="7.0" fill="#33bb33" stroke="#000" stroke-width="1.9"/><rect x="1954.25" y="461.50" width="12.5" height="12.5" fill="#0000ff" stroke="#000" stroke-width="1.9"/><rect x="1954.25" y="486.50" width="12.5" height="12.5" fill="#0000ff" stroke="#000" stroke-width="1.9"/><path d="M1984.65 493 L1998.15 485.7 L1998.15 500.3 Z" fill="#ff0000" stroke="#000" stroke-width="1.9" stroke-linejoin="miter"/></g>
<text x="960.75" y="558.75" font-family="Liberation Sans, sans-serif" font-weight="bold" font-size="24.3" fill="#000" textLength="29.25" lengthAdjust="spacingAndGlyphs">1-2</text>
<text x="1686.8" y="352.9" font-family="Liberation Sans, sans-serif" font-weight="bold" font-size="26" fill="#000" textLength="30.8" lengthAdjust="spacingAndGlyphs">1-4</text>
<text x="1934.3" y="306.3" font-family="Liberation Sans, sans-serif" font-weight="bold" font-size="26.5" fill="#000" textLength="24.2" lengthAdjust="spacingAndGlyphs">2x</text>
</svg>
</body></html>
